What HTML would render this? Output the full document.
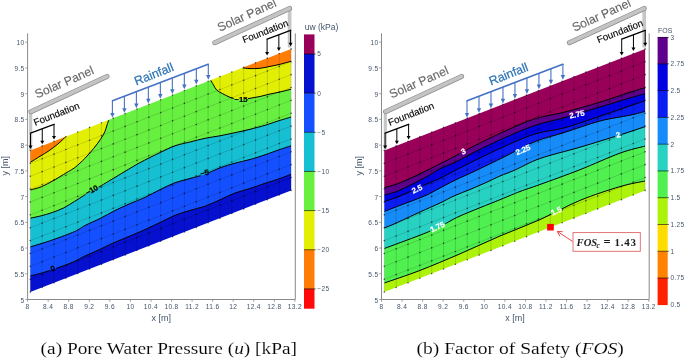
<!DOCTYPE html>
<html><head><meta charset="utf-8"><style>
html,body{margin:0;padding:0;background:#fff;}
body{width:685px;height:358px;overflow:hidden;}
svg{display:block;font-family:"Liberation Sans",sans-serif;will-change:transform;}
</style></head><body>
<svg width="685" height="358" viewBox="0 0 685 358">
<clipPath id="cl"><path d="M30.3,150.5 L291.1,48.9 L291.1,190.4 L30.3,292.1 Z"/></clipPath>
<path d="M26.3,148.06 L295.1,43.34 L295.1,192.84 L26.3,297.66 Z" fill="#0610cf"/>
<path d="M27.3,276.68 C27.8,276.55 27.62,276.6 30.3,275.9 C32.98,275.2 37.87,274.18 43.4,272.5 C48.93,270.82 58.28,267.67 63.5,265.8 C68.72,263.93 71.12,262.93 74.7,261.3 C78.28,259.67 80.95,257.92 85,256 C89.05,254.08 94.35,251.93 99,249.8 C103.65,247.67 107.73,245.5 112.9,243.2 C118.07,240.9 124.65,238.27 130,236 C135.35,233.73 140,231.85 145,229.6 C150,227.35 155,224.88 160,222.5 C165,220.12 170,217.32 175,215.3 C180,213.28 185,211.92 190,210.4 C195,208.88 200,207.97 205,206.2 C210,204.43 215,202 220,199.8 C225,197.6 230,194.88 235,193 C240,191.12 245,190.12 250,188.5 C255,186.88 260.5,184.8 265,183.3 C269.5,181.8 272.65,181 277,179.5 C281.35,178 288.25,175.35 291.1,174.3 C293.95,173.25 293.6,173.38 294.1,173.19 L294.1,39.73 L27.3,143.67 Z" fill="#1450ff"/>
<path d="M27.3,247.84 C27.8,247.68 26.13,248.21 30.3,246.9 C34.47,245.59 44.9,242.57 52.3,240 C59.7,237.43 69.25,233.92 74.7,231.5 C80.15,229.08 80.78,227.67 85,225.5 C89.22,223.33 95,221 100,218.5 C105,216 110,212.98 115,210.5 C120,208.02 125,205.78 130,203.6 C135,201.42 140,199.73 145,197.4 C150,195.07 155,192.05 160,189.6 C165,187.15 170,184.55 175,182.7 C180,180.85 185,179.9 190,178.5 C195,177.1 200,176.08 205,174.3 C210,172.52 215,169.65 220,167.8 C225,165.95 230,164.58 235,163.2 C240,161.82 245,160.9 250,159.5 C255,158.1 260.5,156.3 265,154.8 C269.5,153.3 272.65,152 277,150.5 C281.35,149 288.25,146.75 291.1,145.8 C293.95,144.85 293.6,144.97 294.1,144.8 L294.1,39.73 L27.3,143.67 Z" fill="#17bfd3"/>
<path d="M27.3,218.86 C27.8,218.75 27.98,218.71 30.3,218.2 C32.62,217.69 37.53,216.75 41.2,215.8 C44.87,214.85 48.58,213.8 52.3,212.5 C56.02,211.2 59.77,209.87 63.5,208 C67.23,206.13 71.35,203.35 74.7,201.3 C78.05,199.25 80.62,197.5 83.6,195.7 C86.58,193.9 89.62,192.2 92.6,190.5 C95.58,188.8 98.6,187.18 101.5,185.5 C104.4,183.82 106.08,182.75 110,180.4 C113.92,178.05 120,174.37 125,171.4 C130,168.43 134.17,165.73 140,162.6 C145.83,159.47 154.17,155.4 160,152.6 C165.83,149.8 170,147.57 175,145.8 C180,144.03 185,143.25 190,142 C195,140.75 200,139.33 205,138.3 C210,137.27 215,136.73 220,135.8 C225,134.87 230,133.78 235,132.7 C240,131.62 245,130.53 250,129.3 C255,128.07 260.5,126.63 265,125.3 C269.5,123.97 272.65,122.68 277,121.3 C281.35,119.92 288.25,117.87 291.1,117 C293.95,116.13 293.6,116.24 294.1,116.09 L294.1,39.73 L27.3,143.67 Z" fill="#68f040"/>
<path d="M27.3,190.88 C27.8,190.73 27.98,190.68 30.3,190 C32.62,189.32 37.53,188.27 41.2,186.8 C44.87,185.33 48.58,183.25 52.3,181.2 C56.02,179.15 60.52,176.28 63.5,174.5 C66.48,172.72 68.15,171.78 70.2,170.5 C72.25,169.22 73.38,168.78 75.8,166.8 C78.22,164.82 81.73,161.65 84.7,158.6 C87.67,155.55 91,151.67 93.6,148.5 C96.2,145.33 98.43,142.38 100.3,139.6 C102.17,136.82 103.68,134.22 104.8,131.8 C105.92,129.38 106.33,127.08 107,125.1 C107.67,123.12 108.28,121.41 108.8,119.92 C109.32,118.43 109.89,116.77 110.11,116.14 L110.11,111.41 L27.3,143.67 Z" fill="#e2ef05"/>
<path d="M208.67,76.78 C209.01,77.35 209.91,78.88 210.7,80.22 C211.49,81.56 212.38,83.14 213.4,84.8 C214.42,86.46 215.32,88.75 216.8,90.2 C218.28,91.65 220.27,92.38 222.3,93.5 C224.33,94.62 227.13,96.08 229,96.9 C230.87,97.72 231.67,97.97 233.5,98.4 C235.33,98.83 237.25,99.52 240,99.5 C242.75,99.48 246.67,98.8 250,98.3 C253.33,97.8 256.67,97.22 260,96.5 C263.33,95.78 266.67,94.75 270,94 C273.33,93.25 276.48,92.8 280,92 C283.52,91.2 288.75,89.79 291.1,89.2 C293.45,88.61 293.6,88.57 294.1,88.44 L294.1,39.73 L208.67,73.01 Z" fill="#e2ef05"/>
<path d="M27.3,164.16 C27.8,163.85 28.18,163.61 30.3,162.3 C32.42,160.99 36.9,158.22 40,156.3 C43.1,154.38 45.92,152.85 48.9,150.8 C51.88,148.75 55.1,146.35 57.9,144 C60.7,141.65 63.91,138.38 65.7,136.71 C67.49,135.04 68.14,134.43 68.62,133.98 L68.62,127.57 L27.3,143.67 Z" fill="#ff7d05"/>
<path d="M238.52,67.43 C239.18,67.49 240.59,67.64 242.5,67.83 C244.41,68.03 247.08,68.52 250,68.6 C252.92,68.68 256.67,68.67 260,68.3 C263.33,67.93 266.67,67.07 270,66.4 C273.33,65.73 276.48,65.17 280,64.3 C283.52,63.43 288.75,61.86 291.1,61.2 C293.45,60.54 293.6,60.5 294.1,60.36 L294.1,39.73 L238.52,61.38 Z" fill="#ff7d05"/>
<path d="M18.3,143.17 L303.1,32.23 L303.1,197.72 L18.3,308.78 Z M30.3,150.5 L291.1,48.9 L291.1,190.4 L30.3,292.1 Z" fill="#fff" fill-rule="evenodd"/>
<path d="M30.3,150.5V292.1M42.15,145.88V287.48M54.01,141.26V282.85M65.86,136.65V278.23M77.72,132.03V273.61M89.57,127.41V268.99M101.43,122.79V264.36M113.28,118.17V259.74M125.14,113.55V255.12M136.99,108.94V250.5M148.85,104.32V245.87M160.7,99.7V241.25M172.55,95.08V236.63M184.41,90.46V232M196.26,85.85V227.38M208.12,81.23V222.76M219.97,76.61V218.14M231.83,71.99V213.51M243.68,67.37V208.89M255.54,62.75V204.27M267.39,58.14V199.65M279.25,53.52V195.02M291.1,48.9V190.4M30.3,163.37L291.1,61.76M30.3,176.25L291.1,74.63M30.3,189.12L291.1,87.49M30.3,201.99L291.1,100.35M30.3,214.86L291.1,113.22M30.3,227.74L291.1,126.08M30.3,240.61L291.1,138.95M30.3,253.48L291.1,151.81M30.3,266.35L291.1,164.67M30.3,279.23L291.1,177.54" stroke="#000" stroke-opacity="0.17" stroke-width="0.8" fill="none"/>
<path d="M29.5,150.5a0.8,0.8 0 1,0 1.6,0a0.8,0.8 0 1,0 -1.6,0M29.5,163.37a0.8,0.8 0 1,0 1.6,0a0.8,0.8 0 1,0 -1.6,0M29.5,176.25a0.8,0.8 0 1,0 1.6,0a0.8,0.8 0 1,0 -1.6,0M29.5,189.12a0.8,0.8 0 1,0 1.6,0a0.8,0.8 0 1,0 -1.6,0M29.5,201.99a0.8,0.8 0 1,0 1.6,0a0.8,0.8 0 1,0 -1.6,0M29.5,214.86a0.8,0.8 0 1,0 1.6,0a0.8,0.8 0 1,0 -1.6,0M29.5,227.74a0.8,0.8 0 1,0 1.6,0a0.8,0.8 0 1,0 -1.6,0M29.5,240.61a0.8,0.8 0 1,0 1.6,0a0.8,0.8 0 1,0 -1.6,0M29.5,253.48a0.8,0.8 0 1,0 1.6,0a0.8,0.8 0 1,0 -1.6,0M29.5,266.35a0.8,0.8 0 1,0 1.6,0a0.8,0.8 0 1,0 -1.6,0M29.5,279.23a0.8,0.8 0 1,0 1.6,0a0.8,0.8 0 1,0 -1.6,0M29.5,292.1a0.8,0.8 0 1,0 1.6,0a0.8,0.8 0 1,0 -1.6,0M41.35,145.88a0.8,0.8 0 1,0 1.6,0a0.8,0.8 0 1,0 -1.6,0M41.35,158.75a0.8,0.8 0 1,0 1.6,0a0.8,0.8 0 1,0 -1.6,0M41.35,171.63a0.8,0.8 0 1,0 1.6,0a0.8,0.8 0 1,0 -1.6,0M41.35,184.5a0.8,0.8 0 1,0 1.6,0a0.8,0.8 0 1,0 -1.6,0M41.35,197.37a0.8,0.8 0 1,0 1.6,0a0.8,0.8 0 1,0 -1.6,0M41.35,210.24a0.8,0.8 0 1,0 1.6,0a0.8,0.8 0 1,0 -1.6,0M41.35,223.12a0.8,0.8 0 1,0 1.6,0a0.8,0.8 0 1,0 -1.6,0M41.35,235.99a0.8,0.8 0 1,0 1.6,0a0.8,0.8 0 1,0 -1.6,0M41.35,248.86a0.8,0.8 0 1,0 1.6,0a0.8,0.8 0 1,0 -1.6,0M41.35,261.73a0.8,0.8 0 1,0 1.6,0a0.8,0.8 0 1,0 -1.6,0M41.35,274.6a0.8,0.8 0 1,0 1.6,0a0.8,0.8 0 1,0 -1.6,0M41.35,287.48a0.8,0.8 0 1,0 1.6,0a0.8,0.8 0 1,0 -1.6,0M53.21,141.26a0.8,0.8 0 1,0 1.6,0a0.8,0.8 0 1,0 -1.6,0M53.21,154.14a0.8,0.8 0 1,0 1.6,0a0.8,0.8 0 1,0 -1.6,0M53.21,167.01a0.8,0.8 0 1,0 1.6,0a0.8,0.8 0 1,0 -1.6,0M53.21,179.88a0.8,0.8 0 1,0 1.6,0a0.8,0.8 0 1,0 -1.6,0M53.21,192.75a0.8,0.8 0 1,0 1.6,0a0.8,0.8 0 1,0 -1.6,0M53.21,205.62a0.8,0.8 0 1,0 1.6,0a0.8,0.8 0 1,0 -1.6,0M53.21,218.5a0.8,0.8 0 1,0 1.6,0a0.8,0.8 0 1,0 -1.6,0M53.21,231.37a0.8,0.8 0 1,0 1.6,0a0.8,0.8 0 1,0 -1.6,0M53.21,244.24a0.8,0.8 0 1,0 1.6,0a0.8,0.8 0 1,0 -1.6,0M53.21,257.11a0.8,0.8 0 1,0 1.6,0a0.8,0.8 0 1,0 -1.6,0M53.21,269.98a0.8,0.8 0 1,0 1.6,0a0.8,0.8 0 1,0 -1.6,0M53.21,282.85a0.8,0.8 0 1,0 1.6,0a0.8,0.8 0 1,0 -1.6,0M65.06,136.65a0.8,0.8 0 1,0 1.6,0a0.8,0.8 0 1,0 -1.6,0M65.06,149.52a0.8,0.8 0 1,0 1.6,0a0.8,0.8 0 1,0 -1.6,0M65.06,162.39a0.8,0.8 0 1,0 1.6,0a0.8,0.8 0 1,0 -1.6,0M65.06,175.26a0.8,0.8 0 1,0 1.6,0a0.8,0.8 0 1,0 -1.6,0M65.06,188.13a0.8,0.8 0 1,0 1.6,0a0.8,0.8 0 1,0 -1.6,0M65.06,201a0.8,0.8 0 1,0 1.6,0a0.8,0.8 0 1,0 -1.6,0M65.06,213.87a0.8,0.8 0 1,0 1.6,0a0.8,0.8 0 1,0 -1.6,0M65.06,226.75a0.8,0.8 0 1,0 1.6,0a0.8,0.8 0 1,0 -1.6,0M65.06,239.62a0.8,0.8 0 1,0 1.6,0a0.8,0.8 0 1,0 -1.6,0M65.06,252.49a0.8,0.8 0 1,0 1.6,0a0.8,0.8 0 1,0 -1.6,0M65.06,265.36a0.8,0.8 0 1,0 1.6,0a0.8,0.8 0 1,0 -1.6,0M65.06,278.23a0.8,0.8 0 1,0 1.6,0a0.8,0.8 0 1,0 -1.6,0M76.92,132.03a0.8,0.8 0 1,0 1.6,0a0.8,0.8 0 1,0 -1.6,0M76.92,144.9a0.8,0.8 0 1,0 1.6,0a0.8,0.8 0 1,0 -1.6,0M76.92,157.77a0.8,0.8 0 1,0 1.6,0a0.8,0.8 0 1,0 -1.6,0M76.92,170.64a0.8,0.8 0 1,0 1.6,0a0.8,0.8 0 1,0 -1.6,0M76.92,183.51a0.8,0.8 0 1,0 1.6,0a0.8,0.8 0 1,0 -1.6,0M76.92,196.38a0.8,0.8 0 1,0 1.6,0a0.8,0.8 0 1,0 -1.6,0M76.92,209.25a0.8,0.8 0 1,0 1.6,0a0.8,0.8 0 1,0 -1.6,0M76.92,222.12a0.8,0.8 0 1,0 1.6,0a0.8,0.8 0 1,0 -1.6,0M76.92,235a0.8,0.8 0 1,0 1.6,0a0.8,0.8 0 1,0 -1.6,0M76.92,247.87a0.8,0.8 0 1,0 1.6,0a0.8,0.8 0 1,0 -1.6,0M76.92,260.74a0.8,0.8 0 1,0 1.6,0a0.8,0.8 0 1,0 -1.6,0M76.92,273.61a0.8,0.8 0 1,0 1.6,0a0.8,0.8 0 1,0 -1.6,0M88.77,127.41a0.8,0.8 0 1,0 1.6,0a0.8,0.8 0 1,0 -1.6,0M88.77,140.28a0.8,0.8 0 1,0 1.6,0a0.8,0.8 0 1,0 -1.6,0M88.77,153.15a0.8,0.8 0 1,0 1.6,0a0.8,0.8 0 1,0 -1.6,0M88.77,166.02a0.8,0.8 0 1,0 1.6,0a0.8,0.8 0 1,0 -1.6,0M88.77,178.89a0.8,0.8 0 1,0 1.6,0a0.8,0.8 0 1,0 -1.6,0M88.77,191.76a0.8,0.8 0 1,0 1.6,0a0.8,0.8 0 1,0 -1.6,0M88.77,204.63a0.8,0.8 0 1,0 1.6,0a0.8,0.8 0 1,0 -1.6,0M88.77,217.5a0.8,0.8 0 1,0 1.6,0a0.8,0.8 0 1,0 -1.6,0M88.77,230.37a0.8,0.8 0 1,0 1.6,0a0.8,0.8 0 1,0 -1.6,0M88.77,243.25a0.8,0.8 0 1,0 1.6,0a0.8,0.8 0 1,0 -1.6,0M88.77,256.12a0.8,0.8 0 1,0 1.6,0a0.8,0.8 0 1,0 -1.6,0M88.77,268.99a0.8,0.8 0 1,0 1.6,0a0.8,0.8 0 1,0 -1.6,0M100.63,122.79a0.8,0.8 0 1,0 1.6,0a0.8,0.8 0 1,0 -1.6,0M100.63,135.66a0.8,0.8 0 1,0 1.6,0a0.8,0.8 0 1,0 -1.6,0M100.63,148.53a0.8,0.8 0 1,0 1.6,0a0.8,0.8 0 1,0 -1.6,0M100.63,161.4a0.8,0.8 0 1,0 1.6,0a0.8,0.8 0 1,0 -1.6,0M100.63,174.27a0.8,0.8 0 1,0 1.6,0a0.8,0.8 0 1,0 -1.6,0M100.63,187.14a0.8,0.8 0 1,0 1.6,0a0.8,0.8 0 1,0 -1.6,0M100.63,200.01a0.8,0.8 0 1,0 1.6,0a0.8,0.8 0 1,0 -1.6,0M100.63,212.88a0.8,0.8 0 1,0 1.6,0a0.8,0.8 0 1,0 -1.6,0M100.63,225.75a0.8,0.8 0 1,0 1.6,0a0.8,0.8 0 1,0 -1.6,0M100.63,238.62a0.8,0.8 0 1,0 1.6,0a0.8,0.8 0 1,0 -1.6,0M100.63,251.49a0.8,0.8 0 1,0 1.6,0a0.8,0.8 0 1,0 -1.6,0M100.63,264.36a0.8,0.8 0 1,0 1.6,0a0.8,0.8 0 1,0 -1.6,0M112.48,118.17a0.8,0.8 0 1,0 1.6,0a0.8,0.8 0 1,0 -1.6,0M112.48,131.04a0.8,0.8 0 1,0 1.6,0a0.8,0.8 0 1,0 -1.6,0M112.48,143.91a0.8,0.8 0 1,0 1.6,0a0.8,0.8 0 1,0 -1.6,0M112.48,156.78a0.8,0.8 0 1,0 1.6,0a0.8,0.8 0 1,0 -1.6,0M112.48,169.65a0.8,0.8 0 1,0 1.6,0a0.8,0.8 0 1,0 -1.6,0M112.48,182.52a0.8,0.8 0 1,0 1.6,0a0.8,0.8 0 1,0 -1.6,0M112.48,195.39a0.8,0.8 0 1,0 1.6,0a0.8,0.8 0 1,0 -1.6,0M112.48,208.26a0.8,0.8 0 1,0 1.6,0a0.8,0.8 0 1,0 -1.6,0M112.48,221.13a0.8,0.8 0 1,0 1.6,0a0.8,0.8 0 1,0 -1.6,0M112.48,234a0.8,0.8 0 1,0 1.6,0a0.8,0.8 0 1,0 -1.6,0M112.48,246.87a0.8,0.8 0 1,0 1.6,0a0.8,0.8 0 1,0 -1.6,0M112.48,259.74a0.8,0.8 0 1,0 1.6,0a0.8,0.8 0 1,0 -1.6,0M124.34,113.55a0.8,0.8 0 1,0 1.6,0a0.8,0.8 0 1,0 -1.6,0M124.34,126.42a0.8,0.8 0 1,0 1.6,0a0.8,0.8 0 1,0 -1.6,0M124.34,139.29a0.8,0.8 0 1,0 1.6,0a0.8,0.8 0 1,0 -1.6,0M124.34,152.16a0.8,0.8 0 1,0 1.6,0a0.8,0.8 0 1,0 -1.6,0M124.34,165.03a0.8,0.8 0 1,0 1.6,0a0.8,0.8 0 1,0 -1.6,0M124.34,177.9a0.8,0.8 0 1,0 1.6,0a0.8,0.8 0 1,0 -1.6,0M124.34,190.77a0.8,0.8 0 1,0 1.6,0a0.8,0.8 0 1,0 -1.6,0M124.34,203.64a0.8,0.8 0 1,0 1.6,0a0.8,0.8 0 1,0 -1.6,0M124.34,216.51a0.8,0.8 0 1,0 1.6,0a0.8,0.8 0 1,0 -1.6,0M124.34,229.38a0.8,0.8 0 1,0 1.6,0a0.8,0.8 0 1,0 -1.6,0M124.34,242.25a0.8,0.8 0 1,0 1.6,0a0.8,0.8 0 1,0 -1.6,0M124.34,255.12a0.8,0.8 0 1,0 1.6,0a0.8,0.8 0 1,0 -1.6,0M136.19,108.94a0.8,0.8 0 1,0 1.6,0a0.8,0.8 0 1,0 -1.6,0M136.19,121.81a0.8,0.8 0 1,0 1.6,0a0.8,0.8 0 1,0 -1.6,0M136.19,134.67a0.8,0.8 0 1,0 1.6,0a0.8,0.8 0 1,0 -1.6,0M136.19,147.54a0.8,0.8 0 1,0 1.6,0a0.8,0.8 0 1,0 -1.6,0M136.19,160.41a0.8,0.8 0 1,0 1.6,0a0.8,0.8 0 1,0 -1.6,0M136.19,173.28a0.8,0.8 0 1,0 1.6,0a0.8,0.8 0 1,0 -1.6,0M136.19,186.15a0.8,0.8 0 1,0 1.6,0a0.8,0.8 0 1,0 -1.6,0M136.19,199.02a0.8,0.8 0 1,0 1.6,0a0.8,0.8 0 1,0 -1.6,0M136.19,211.89a0.8,0.8 0 1,0 1.6,0a0.8,0.8 0 1,0 -1.6,0M136.19,224.76a0.8,0.8 0 1,0 1.6,0a0.8,0.8 0 1,0 -1.6,0M136.19,237.63a0.8,0.8 0 1,0 1.6,0a0.8,0.8 0 1,0 -1.6,0M136.19,250.5a0.8,0.8 0 1,0 1.6,0a0.8,0.8 0 1,0 -1.6,0M148.05,104.32a0.8,0.8 0 1,0 1.6,0a0.8,0.8 0 1,0 -1.6,0M148.05,117.19a0.8,0.8 0 1,0 1.6,0a0.8,0.8 0 1,0 -1.6,0M148.05,130.06a0.8,0.8 0 1,0 1.6,0a0.8,0.8 0 1,0 -1.6,0M148.05,142.92a0.8,0.8 0 1,0 1.6,0a0.8,0.8 0 1,0 -1.6,0M148.05,155.79a0.8,0.8 0 1,0 1.6,0a0.8,0.8 0 1,0 -1.6,0M148.05,168.66a0.8,0.8 0 1,0 1.6,0a0.8,0.8 0 1,0 -1.6,0M148.05,181.53a0.8,0.8 0 1,0 1.6,0a0.8,0.8 0 1,0 -1.6,0M148.05,194.4a0.8,0.8 0 1,0 1.6,0a0.8,0.8 0 1,0 -1.6,0M148.05,207.27a0.8,0.8 0 1,0 1.6,0a0.8,0.8 0 1,0 -1.6,0M148.05,220.14a0.8,0.8 0 1,0 1.6,0a0.8,0.8 0 1,0 -1.6,0M148.05,233a0.8,0.8 0 1,0 1.6,0a0.8,0.8 0 1,0 -1.6,0M148.05,245.87a0.8,0.8 0 1,0 1.6,0a0.8,0.8 0 1,0 -1.6,0M159.9,99.7a0.8,0.8 0 1,0 1.6,0a0.8,0.8 0 1,0 -1.6,0M159.9,112.57a0.8,0.8 0 1,0 1.6,0a0.8,0.8 0 1,0 -1.6,0M159.9,125.44a0.8,0.8 0 1,0 1.6,0a0.8,0.8 0 1,0 -1.6,0M159.9,138.3a0.8,0.8 0 1,0 1.6,0a0.8,0.8 0 1,0 -1.6,0M159.9,151.17a0.8,0.8 0 1,0 1.6,0a0.8,0.8 0 1,0 -1.6,0M159.9,164.04a0.8,0.8 0 1,0 1.6,0a0.8,0.8 0 1,0 -1.6,0M159.9,176.91a0.8,0.8 0 1,0 1.6,0a0.8,0.8 0 1,0 -1.6,0M159.9,189.78a0.8,0.8 0 1,0 1.6,0a0.8,0.8 0 1,0 -1.6,0M159.9,202.65a0.8,0.8 0 1,0 1.6,0a0.8,0.8 0 1,0 -1.6,0M159.9,215.51a0.8,0.8 0 1,0 1.6,0a0.8,0.8 0 1,0 -1.6,0M159.9,228.38a0.8,0.8 0 1,0 1.6,0a0.8,0.8 0 1,0 -1.6,0M159.9,241.25a0.8,0.8 0 1,0 1.6,0a0.8,0.8 0 1,0 -1.6,0M171.75,95.08a0.8,0.8 0 1,0 1.6,0a0.8,0.8 0 1,0 -1.6,0M171.75,107.95a0.8,0.8 0 1,0 1.6,0a0.8,0.8 0 1,0 -1.6,0M171.75,120.82a0.8,0.8 0 1,0 1.6,0a0.8,0.8 0 1,0 -1.6,0M171.75,133.69a0.8,0.8 0 1,0 1.6,0a0.8,0.8 0 1,0 -1.6,0M171.75,146.55a0.8,0.8 0 1,0 1.6,0a0.8,0.8 0 1,0 -1.6,0M171.75,159.42a0.8,0.8 0 1,0 1.6,0a0.8,0.8 0 1,0 -1.6,0M171.75,172.29a0.8,0.8 0 1,0 1.6,0a0.8,0.8 0 1,0 -1.6,0M171.75,185.16a0.8,0.8 0 1,0 1.6,0a0.8,0.8 0 1,0 -1.6,0M171.75,198.02a0.8,0.8 0 1,0 1.6,0a0.8,0.8 0 1,0 -1.6,0M171.75,210.89a0.8,0.8 0 1,0 1.6,0a0.8,0.8 0 1,0 -1.6,0M171.75,223.76a0.8,0.8 0 1,0 1.6,0a0.8,0.8 0 1,0 -1.6,0M171.75,236.63a0.8,0.8 0 1,0 1.6,0a0.8,0.8 0 1,0 -1.6,0M183.61,90.46a0.8,0.8 0 1,0 1.6,0a0.8,0.8 0 1,0 -1.6,0M183.61,103.33a0.8,0.8 0 1,0 1.6,0a0.8,0.8 0 1,0 -1.6,0M183.61,116.2a0.8,0.8 0 1,0 1.6,0a0.8,0.8 0 1,0 -1.6,0M183.61,129.07a0.8,0.8 0 1,0 1.6,0a0.8,0.8 0 1,0 -1.6,0M183.61,141.93a0.8,0.8 0 1,0 1.6,0a0.8,0.8 0 1,0 -1.6,0M183.61,154.8a0.8,0.8 0 1,0 1.6,0a0.8,0.8 0 1,0 -1.6,0M183.61,167.67a0.8,0.8 0 1,0 1.6,0a0.8,0.8 0 1,0 -1.6,0M183.61,180.54a0.8,0.8 0 1,0 1.6,0a0.8,0.8 0 1,0 -1.6,0M183.61,193.4a0.8,0.8 0 1,0 1.6,0a0.8,0.8 0 1,0 -1.6,0M183.61,206.27a0.8,0.8 0 1,0 1.6,0a0.8,0.8 0 1,0 -1.6,0M183.61,219.14a0.8,0.8 0 1,0 1.6,0a0.8,0.8 0 1,0 -1.6,0M183.61,232a0.8,0.8 0 1,0 1.6,0a0.8,0.8 0 1,0 -1.6,0M195.46,85.85a0.8,0.8 0 1,0 1.6,0a0.8,0.8 0 1,0 -1.6,0M195.46,98.71a0.8,0.8 0 1,0 1.6,0a0.8,0.8 0 1,0 -1.6,0M195.46,111.58a0.8,0.8 0 1,0 1.6,0a0.8,0.8 0 1,0 -1.6,0M195.46,124.45a0.8,0.8 0 1,0 1.6,0a0.8,0.8 0 1,0 -1.6,0M195.46,137.31a0.8,0.8 0 1,0 1.6,0a0.8,0.8 0 1,0 -1.6,0M195.46,150.18a0.8,0.8 0 1,0 1.6,0a0.8,0.8 0 1,0 -1.6,0M195.46,163.05a0.8,0.8 0 1,0 1.6,0a0.8,0.8 0 1,0 -1.6,0M195.46,175.91a0.8,0.8 0 1,0 1.6,0a0.8,0.8 0 1,0 -1.6,0M195.46,188.78a0.8,0.8 0 1,0 1.6,0a0.8,0.8 0 1,0 -1.6,0M195.46,201.65a0.8,0.8 0 1,0 1.6,0a0.8,0.8 0 1,0 -1.6,0M195.46,214.51a0.8,0.8 0 1,0 1.6,0a0.8,0.8 0 1,0 -1.6,0M195.46,227.38a0.8,0.8 0 1,0 1.6,0a0.8,0.8 0 1,0 -1.6,0M207.32,81.23a0.8,0.8 0 1,0 1.6,0a0.8,0.8 0 1,0 -1.6,0M207.32,94.09a0.8,0.8 0 1,0 1.6,0a0.8,0.8 0 1,0 -1.6,0M207.32,106.96a0.8,0.8 0 1,0 1.6,0a0.8,0.8 0 1,0 -1.6,0M207.32,119.83a0.8,0.8 0 1,0 1.6,0a0.8,0.8 0 1,0 -1.6,0M207.32,132.69a0.8,0.8 0 1,0 1.6,0a0.8,0.8 0 1,0 -1.6,0M207.32,145.56a0.8,0.8 0 1,0 1.6,0a0.8,0.8 0 1,0 -1.6,0M207.32,158.43a0.8,0.8 0 1,0 1.6,0a0.8,0.8 0 1,0 -1.6,0M207.32,171.29a0.8,0.8 0 1,0 1.6,0a0.8,0.8 0 1,0 -1.6,0M207.32,184.16a0.8,0.8 0 1,0 1.6,0a0.8,0.8 0 1,0 -1.6,0M207.32,197.03a0.8,0.8 0 1,0 1.6,0a0.8,0.8 0 1,0 -1.6,0M207.32,209.89a0.8,0.8 0 1,0 1.6,0a0.8,0.8 0 1,0 -1.6,0M207.32,222.76a0.8,0.8 0 1,0 1.6,0a0.8,0.8 0 1,0 -1.6,0M219.17,76.61a0.8,0.8 0 1,0 1.6,0a0.8,0.8 0 1,0 -1.6,0M219.17,89.48a0.8,0.8 0 1,0 1.6,0a0.8,0.8 0 1,0 -1.6,0M219.17,102.34a0.8,0.8 0 1,0 1.6,0a0.8,0.8 0 1,0 -1.6,0M219.17,115.21a0.8,0.8 0 1,0 1.6,0a0.8,0.8 0 1,0 -1.6,0M219.17,128.07a0.8,0.8 0 1,0 1.6,0a0.8,0.8 0 1,0 -1.6,0M219.17,140.94a0.8,0.8 0 1,0 1.6,0a0.8,0.8 0 1,0 -1.6,0M219.17,153.81a0.8,0.8 0 1,0 1.6,0a0.8,0.8 0 1,0 -1.6,0M219.17,166.67a0.8,0.8 0 1,0 1.6,0a0.8,0.8 0 1,0 -1.6,0M219.17,179.54a0.8,0.8 0 1,0 1.6,0a0.8,0.8 0 1,0 -1.6,0M219.17,192.4a0.8,0.8 0 1,0 1.6,0a0.8,0.8 0 1,0 -1.6,0M219.17,205.27a0.8,0.8 0 1,0 1.6,0a0.8,0.8 0 1,0 -1.6,0M219.17,218.14a0.8,0.8 0 1,0 1.6,0a0.8,0.8 0 1,0 -1.6,0M231.03,71.99a0.8,0.8 0 1,0 1.6,0a0.8,0.8 0 1,0 -1.6,0M231.03,84.86a0.8,0.8 0 1,0 1.6,0a0.8,0.8 0 1,0 -1.6,0M231.03,97.72a0.8,0.8 0 1,0 1.6,0a0.8,0.8 0 1,0 -1.6,0M231.03,110.59a0.8,0.8 0 1,0 1.6,0a0.8,0.8 0 1,0 -1.6,0M231.03,123.45a0.8,0.8 0 1,0 1.6,0a0.8,0.8 0 1,0 -1.6,0M231.03,136.32a0.8,0.8 0 1,0 1.6,0a0.8,0.8 0 1,0 -1.6,0M231.03,149.19a0.8,0.8 0 1,0 1.6,0a0.8,0.8 0 1,0 -1.6,0M231.03,162.05a0.8,0.8 0 1,0 1.6,0a0.8,0.8 0 1,0 -1.6,0M231.03,174.92a0.8,0.8 0 1,0 1.6,0a0.8,0.8 0 1,0 -1.6,0M231.03,187.78a0.8,0.8 0 1,0 1.6,0a0.8,0.8 0 1,0 -1.6,0M231.03,200.65a0.8,0.8 0 1,0 1.6,0a0.8,0.8 0 1,0 -1.6,0M231.03,213.51a0.8,0.8 0 1,0 1.6,0a0.8,0.8 0 1,0 -1.6,0M242.88,67.37a0.8,0.8 0 1,0 1.6,0a0.8,0.8 0 1,0 -1.6,0M242.88,80.24a0.8,0.8 0 1,0 1.6,0a0.8,0.8 0 1,0 -1.6,0M242.88,93.1a0.8,0.8 0 1,0 1.6,0a0.8,0.8 0 1,0 -1.6,0M242.88,105.97a0.8,0.8 0 1,0 1.6,0a0.8,0.8 0 1,0 -1.6,0M242.88,118.83a0.8,0.8 0 1,0 1.6,0a0.8,0.8 0 1,0 -1.6,0M242.88,131.7a0.8,0.8 0 1,0 1.6,0a0.8,0.8 0 1,0 -1.6,0M242.88,144.56a0.8,0.8 0 1,0 1.6,0a0.8,0.8 0 1,0 -1.6,0M242.88,157.43a0.8,0.8 0 1,0 1.6,0a0.8,0.8 0 1,0 -1.6,0M242.88,170.3a0.8,0.8 0 1,0 1.6,0a0.8,0.8 0 1,0 -1.6,0M242.88,183.16a0.8,0.8 0 1,0 1.6,0a0.8,0.8 0 1,0 -1.6,0M242.88,196.03a0.8,0.8 0 1,0 1.6,0a0.8,0.8 0 1,0 -1.6,0M242.88,208.89a0.8,0.8 0 1,0 1.6,0a0.8,0.8 0 1,0 -1.6,0M254.74,62.75a0.8,0.8 0 1,0 1.6,0a0.8,0.8 0 1,0 -1.6,0M254.74,75.62a0.8,0.8 0 1,0 1.6,0a0.8,0.8 0 1,0 -1.6,0M254.74,88.48a0.8,0.8 0 1,0 1.6,0a0.8,0.8 0 1,0 -1.6,0M254.74,101.35a0.8,0.8 0 1,0 1.6,0a0.8,0.8 0 1,0 -1.6,0M254.74,114.21a0.8,0.8 0 1,0 1.6,0a0.8,0.8 0 1,0 -1.6,0M254.74,127.08a0.8,0.8 0 1,0 1.6,0a0.8,0.8 0 1,0 -1.6,0M254.74,139.94a0.8,0.8 0 1,0 1.6,0a0.8,0.8 0 1,0 -1.6,0M254.74,152.81a0.8,0.8 0 1,0 1.6,0a0.8,0.8 0 1,0 -1.6,0M254.74,165.67a0.8,0.8 0 1,0 1.6,0a0.8,0.8 0 1,0 -1.6,0M254.74,178.54a0.8,0.8 0 1,0 1.6,0a0.8,0.8 0 1,0 -1.6,0M254.74,191.4a0.8,0.8 0 1,0 1.6,0a0.8,0.8 0 1,0 -1.6,0M254.74,204.27a0.8,0.8 0 1,0 1.6,0a0.8,0.8 0 1,0 -1.6,0M266.59,58.14a0.8,0.8 0 1,0 1.6,0a0.8,0.8 0 1,0 -1.6,0M266.59,71a0.8,0.8 0 1,0 1.6,0a0.8,0.8 0 1,0 -1.6,0M266.59,83.87a0.8,0.8 0 1,0 1.6,0a0.8,0.8 0 1,0 -1.6,0M266.59,96.73a0.8,0.8 0 1,0 1.6,0a0.8,0.8 0 1,0 -1.6,0M266.59,109.59a0.8,0.8 0 1,0 1.6,0a0.8,0.8 0 1,0 -1.6,0M266.59,122.46a0.8,0.8 0 1,0 1.6,0a0.8,0.8 0 1,0 -1.6,0M266.59,135.32a0.8,0.8 0 1,0 1.6,0a0.8,0.8 0 1,0 -1.6,0M266.59,148.19a0.8,0.8 0 1,0 1.6,0a0.8,0.8 0 1,0 -1.6,0M266.59,161.05a0.8,0.8 0 1,0 1.6,0a0.8,0.8 0 1,0 -1.6,0M266.59,173.92a0.8,0.8 0 1,0 1.6,0a0.8,0.8 0 1,0 -1.6,0M266.59,186.78a0.8,0.8 0 1,0 1.6,0a0.8,0.8 0 1,0 -1.6,0M266.59,199.65a0.8,0.8 0 1,0 1.6,0a0.8,0.8 0 1,0 -1.6,0M278.45,53.52a0.8,0.8 0 1,0 1.6,0a0.8,0.8 0 1,0 -1.6,0M278.45,66.38a0.8,0.8 0 1,0 1.6,0a0.8,0.8 0 1,0 -1.6,0M278.45,79.25a0.8,0.8 0 1,0 1.6,0a0.8,0.8 0 1,0 -1.6,0M278.45,92.11a0.8,0.8 0 1,0 1.6,0a0.8,0.8 0 1,0 -1.6,0M278.45,104.97a0.8,0.8 0 1,0 1.6,0a0.8,0.8 0 1,0 -1.6,0M278.45,117.84a0.8,0.8 0 1,0 1.6,0a0.8,0.8 0 1,0 -1.6,0M278.45,130.7a0.8,0.8 0 1,0 1.6,0a0.8,0.8 0 1,0 -1.6,0M278.45,143.57a0.8,0.8 0 1,0 1.6,0a0.8,0.8 0 1,0 -1.6,0M278.45,156.43a0.8,0.8 0 1,0 1.6,0a0.8,0.8 0 1,0 -1.6,0M278.45,169.29a0.8,0.8 0 1,0 1.6,0a0.8,0.8 0 1,0 -1.6,0M278.45,182.16a0.8,0.8 0 1,0 1.6,0a0.8,0.8 0 1,0 -1.6,0M278.45,195.02a0.8,0.8 0 1,0 1.6,0a0.8,0.8 0 1,0 -1.6,0M290.3,48.9a0.8,0.8 0 1,0 1.6,0a0.8,0.8 0 1,0 -1.6,0M290.3,61.76a0.8,0.8 0 1,0 1.6,0a0.8,0.8 0 1,0 -1.6,0M290.3,74.63a0.8,0.8 0 1,0 1.6,0a0.8,0.8 0 1,0 -1.6,0M290.3,87.49a0.8,0.8 0 1,0 1.6,0a0.8,0.8 0 1,0 -1.6,0M290.3,100.35a0.8,0.8 0 1,0 1.6,0a0.8,0.8 0 1,0 -1.6,0M290.3,113.22a0.8,0.8 0 1,0 1.6,0a0.8,0.8 0 1,0 -1.6,0M290.3,126.08a0.8,0.8 0 1,0 1.6,0a0.8,0.8 0 1,0 -1.6,0M290.3,138.95a0.8,0.8 0 1,0 1.6,0a0.8,0.8 0 1,0 -1.6,0M290.3,151.81a0.8,0.8 0 1,0 1.6,0a0.8,0.8 0 1,0 -1.6,0M290.3,164.67a0.8,0.8 0 1,0 1.6,0a0.8,0.8 0 1,0 -1.6,0M290.3,177.54a0.8,0.8 0 1,0 1.6,0a0.8,0.8 0 1,0 -1.6,0M290.3,190.4a0.8,0.8 0 1,0 1.6,0a0.8,0.8 0 1,0 -1.6,0" fill="#000" fill-opacity="0.6"/>
<mask id="ml" maskUnits="userSpaceOnUse" x="0" y="0" width="685" height="358"><rect width="685" height="358" fill="#fff"/><rect x="-3.5" y="-3" width="7" height="6" transform="translate(52.9,268.8) rotate(-18)" fill="#000"/><rect x="-7.5" y="-3" width="15" height="6" transform="translate(91.8,190.4) rotate(-30)" fill="#000"/><rect x="-4.5" y="-3" width="9" height="6" transform="translate(204.6,173) rotate(-14)" fill="#000"/><rect x="-7" y="-3" width="14" height="6" transform="translate(241,99.4) rotate(0)" fill="#000"/></mask>
<g clip-path="url(#cl)">
<path d="M30.3,275.9 C32.48,275.33 37.87,274.18 43.4,272.5 C48.93,270.82 58.28,267.67 63.5,265.8 C68.72,263.93 71.12,262.93 74.7,261.3 C78.28,259.67 80.95,257.92 85,256 C89.05,254.08 94.35,251.93 99,249.8 C103.65,247.67 107.73,245.5 112.9,243.2 C118.07,240.9 124.65,238.27 130,236 C135.35,233.73 140,231.85 145,229.6 C150,227.35 155,224.88 160,222.5 C165,220.12 170,217.32 175,215.3 C180,213.28 185,211.92 190,210.4 C195,208.88 200,207.97 205,206.2 C210,204.43 215,202 220,199.8 C225,197.6 230,194.88 235,193 C240,191.12 245,190.12 250,188.5 C255,186.88 260.5,184.8 265,183.3 C269.5,181.8 272.65,181 277,179.5 C281.35,178 288.75,175.17 291.1,174.3M30.3,246.9 C33.97,245.75 44.9,242.57 52.3,240 C59.7,237.43 69.25,233.92 74.7,231.5 C80.15,229.08 80.78,227.67 85,225.5 C89.22,223.33 95,221 100,218.5 C105,216 110,212.98 115,210.5 C120,208.02 125,205.78 130,203.6 C135,201.42 140,199.73 145,197.4 C150,195.07 155,192.05 160,189.6 C165,187.15 170,184.55 175,182.7 C180,180.85 185,179.9 190,178.5 C195,177.1 200,176.08 205,174.3 C210,172.52 215,169.65 220,167.8 C225,165.95 230,164.58 235,163.2 C240,161.82 245,160.9 250,159.5 C255,158.1 260.5,156.3 265,154.8 C269.5,153.3 272.65,152 277,150.5 C281.35,149 288.75,146.58 291.1,145.8M30.3,218.2 C32.12,217.8 37.53,216.75 41.2,215.8 C44.87,214.85 48.58,213.8 52.3,212.5 C56.02,211.2 59.77,209.87 63.5,208 C67.23,206.13 71.35,203.35 74.7,201.3 C78.05,199.25 80.62,197.5 83.6,195.7 C86.58,193.9 89.62,192.2 92.6,190.5 C95.58,188.8 98.6,187.18 101.5,185.5 C104.4,183.82 106.08,182.75 110,180.4 C113.92,178.05 120,174.37 125,171.4 C130,168.43 134.17,165.73 140,162.6 C145.83,159.47 154.17,155.4 160,152.6 C165.83,149.8 170,147.57 175,145.8 C180,144.03 185,143.25 190,142 C195,140.75 200,139.33 205,138.3 C210,137.27 215,136.73 220,135.8 C225,134.87 230,133.78 235,132.7 C240,131.62 245,130.53 250,129.3 C255,128.07 260.5,126.63 265,125.3 C269.5,123.97 272.65,122.68 277,121.3 C281.35,119.92 288.75,117.72 291.1,117M30.3,190 C32.12,189.47 37.53,188.27 41.2,186.8 C44.87,185.33 48.58,183.25 52.3,181.2 C56.02,179.15 60.52,176.28 63.5,174.5 C66.48,172.72 68.15,171.78 70.2,170.5 C72.25,169.22 73.38,168.78 75.8,166.8 C78.22,164.82 81.73,161.65 84.7,158.6 C87.67,155.55 91,151.67 93.6,148.5 C96.2,145.33 98.43,142.38 100.3,139.6 C102.17,136.82 103.68,134.22 104.8,131.8 C105.92,129.38 106.33,127.08 107,125.1 C107.67,123.12 108.5,120.78 108.8,119.92M210.7,80.22 C211.15,80.98 212.38,83.14 213.4,84.8 C214.42,86.46 215.32,88.75 216.8,90.2 C218.28,91.65 220.27,92.38 222.3,93.5 C224.33,94.62 227.13,96.08 229,96.9 C230.87,97.72 231.67,97.97 233.5,98.4 C235.33,98.83 237.25,99.52 240,99.5 C242.75,99.48 246.67,98.8 250,98.3 C253.33,97.8 256.67,97.22 260,96.5 C263.33,95.78 266.67,94.75 270,94 C273.33,93.25 276.48,92.8 280,92 C283.52,91.2 289.25,89.67 291.1,89.2M30.3,162.3 C31.92,161.3 36.9,158.22 40,156.3 C43.1,154.38 45.92,152.85 48.9,150.8 C51.88,148.75 55.1,146.35 57.9,144 C60.7,141.65 64.4,137.92 65.7,136.71M242.5,67.83 C243.75,67.96 247.08,68.52 250,68.6 C252.92,68.68 256.67,68.67 260,68.3 C263.33,67.93 266.67,67.07 270,66.4 C273.33,65.73 276.48,65.17 280,64.3 C283.52,63.43 289.25,61.72 291.1,61.2" stroke="#000" stroke-width="1" fill="none" mask="url(#ml)"/>
</g>
<clipPath id="cr"><path d="M384.3,150.5 L645.1,48.9 L645.1,190.4 L384.3,292.1 Z"/></clipPath>
<path d="M380.3,148.06 L649.1,43.34 L649.1,192.84 L380.3,297.66 Z" fill="#acf20a"/>
<path d="M381.3,284.06 C381.8,283.88 377.85,285.28 384.3,283 C390.75,280.72 407.38,275.27 420,270.4 C432.62,265.53 446.67,259.53 460,253.8 C473.33,248.07 486.67,241.7 500,236 C513.33,230.3 526.67,225.53 540,219.6 C553.33,213.67 566.67,205.9 580,200.4 C593.33,194.9 609.15,189.83 620,186.6 C630.85,183.37 640.42,182.04 645.1,181 C649.78,179.96 647.6,180.44 648.1,180.33 L648.1,39.73 L381.3,143.67 Z" fill="#50f050"/>
<path d="M381.3,249.62 C381.8,249.43 377.85,250.9 384.3,248.5 C390.75,246.1 410.72,238.83 420,235.2 C429.28,231.57 433.33,229.9 440,226.7 C446.67,223.5 450,220.5 460,216 C470,211.5 490,203.78 500,199.7 C510,195.62 513.33,194.03 520,191.5 C526.67,188.97 530,188.13 540,184.5 C550,180.87 566.67,174.93 580,169.7 C593.33,164.47 609.15,157.03 620,153.1 C630.85,149.17 640.42,147.41 645.1,146.1 C649.78,144.79 647.6,145.4 648.1,145.26 L648.1,39.73 L381.3,143.67 Z" fill="#28d2c3"/>
<path d="M381.3,229.23 C381.8,229.03 382.02,228.94 384.3,228 C386.58,227.06 389.05,226.27 395,223.6 C400.95,220.93 412.5,215.43 420,212 C427.5,208.57 434.17,205.75 440,203 C445.83,200.25 450,197.75 455,195.5 C460,193.25 465,191.58 470,189.5 C475,187.42 480,185.25 485,183 C490,180.75 495,178.17 500,176 C505,173.83 508.33,172.92 515,170 C521.67,167.08 529.17,162.3 540,158.5 C550.83,154.7 566.67,151.13 580,147.2 C593.33,143.27 609.15,138.32 620,134.9 C630.85,131.48 640.42,128.23 645.1,126.7 C649.78,125.17 647.6,125.88 648.1,125.72 L648.1,39.73 L381.3,143.67 Z" fill="#168cfa"/>
<path d="M381.3,212.67 C381.8,212.47 381.18,212.71 384.3,211.5 C387.42,210.29 393.22,208.02 400,205.4 C406.78,202.78 418.33,198.7 425,195.8 C431.67,192.9 435,190.6 440,188 C445,185.4 449.17,183.03 455,180.2 C460.83,177.37 466.67,174.95 475,171 C483.33,167.05 495,161.42 505,156.5 C515,151.58 525,145.53 535,141.5 C545,137.47 554.17,135.72 565,132.3 C575.83,128.88 589.17,123.85 600,121 C610.83,118.15 622.48,116.8 630,115.2 C637.52,113.6 642.08,112.16 645.1,111.4 C648.12,110.64 647.6,110.77 648.1,110.65 L648.1,39.73 L381.3,143.67 Z" fill="#0a1ef2"/>
<path d="M381.3,202.55 C381.8,202.38 381.18,202.59 384.3,201.5 C387.42,200.41 393.22,198.8 400,196 C406.78,193.2 418.33,187.65 425,184.7 C431.67,181.75 435,180.67 440,178.3 C445,175.93 449.17,173.48 455,170.5 C460.83,167.52 466.67,164.45 475,160.4 C483.33,156.35 495,150.62 505,146.2 C515,141.78 525,136.98 535,133.9 C545,130.82 554.17,130.65 565,127.7 C575.83,124.75 589.17,119.85 600,116.2 C610.83,112.55 622.48,108.37 630,105.8 C637.52,103.23 642.08,101.8 645.1,100.8 C648.12,99.8 647.6,99.97 648.1,99.81 L648.1,39.73 L381.3,143.67 Z" fill="#0000e1"/>
<path d="M381.3,196.06 C381.8,195.9 381.18,196.09 384.3,195.1 C387.42,194.11 393.22,193.02 400,190.1 C406.78,187.18 418.33,181.15 425,177.6 C431.67,174.05 435,171.33 440,168.8 C445,166.27 449.17,165.23 455,162.4 C460.83,159.57 466.67,155.93 475,151.8 C483.33,147.67 495,142 505,137.6 C515,133.2 525,128.77 535,125.4 C545,122.03 554.17,120.47 565,117.4 C575.83,114.33 589.17,110.25 600,107 C610.83,103.75 622.48,100.12 630,97.9 C637.52,95.68 642.08,94.54 645.1,93.7 C648.12,92.86 647.6,93 648.1,92.87 L648.1,39.73 L381.3,143.67 Z" fill="#5f008c"/>
<path d="M381.3,188.52 C381.8,188.36 381.18,188.55 384.3,187.6 C387.42,186.65 393.22,185.52 400,182.8 C406.78,180.08 418.33,174.47 425,171.3 C431.67,168.13 435,166.33 440,163.8 C445,161.27 449.17,159.15 455,156.1 C460.83,153.05 466.67,149.67 475,145.5 C483.33,141.33 495,135.55 505,131.1 C515,126.65 525,121.98 535,118.8 C545,115.62 554.17,114.77 565,112 C575.83,109.23 589.17,105.5 600,102.2 C610.83,98.9 622.48,94.6 630,92.2 C637.52,89.8 642.08,88.68 645.1,87.8 C648.12,86.92 647.6,87.07 648.1,86.93 L648.1,39.73 L381.3,143.67 Z" fill="#98005a"/>
<path d="M372.3,143.17 L657.1,32.23 L657.1,197.72 L372.3,308.78 Z M384.3,150.5 L645.1,48.9 L645.1,190.4 L384.3,292.1 Z" fill="#fff" fill-rule="evenodd"/>
<path d="M384.3,150.5V292.1M396.15,145.88V287.48M408.01,141.26V282.85M419.86,136.65V278.23M431.72,132.03V273.61M443.57,127.41V268.99M455.43,122.79V264.36M467.28,118.17V259.74M479.14,113.55V255.12M490.99,108.94V250.5M502.85,104.32V245.87M514.7,99.7V241.25M526.55,95.08V236.63M538.41,90.46V232M550.26,85.85V227.38M562.12,81.23V222.76M573.97,76.61V218.14M585.83,71.99V213.51M597.68,67.37V208.89M609.54,62.75V204.27M621.39,58.14V199.65M633.25,53.52V195.02M645.1,48.9V190.4M384.3,163.37L645.1,61.76M384.3,176.25L645.1,74.63M384.3,189.12L645.1,87.49M384.3,201.99L645.1,100.35M384.3,214.86L645.1,113.22M384.3,227.74L645.1,126.08M384.3,240.61L645.1,138.95M384.3,253.48L645.1,151.81M384.3,266.35L645.1,164.67M384.3,279.23L645.1,177.54" stroke="#000" stroke-opacity="0.17" stroke-width="0.8" fill="none"/>
<path d="M383.5,150.5a0.8,0.8 0 1,0 1.6,0a0.8,0.8 0 1,0 -1.6,0M383.5,163.37a0.8,0.8 0 1,0 1.6,0a0.8,0.8 0 1,0 -1.6,0M383.5,176.25a0.8,0.8 0 1,0 1.6,0a0.8,0.8 0 1,0 -1.6,0M383.5,189.12a0.8,0.8 0 1,0 1.6,0a0.8,0.8 0 1,0 -1.6,0M383.5,201.99a0.8,0.8 0 1,0 1.6,0a0.8,0.8 0 1,0 -1.6,0M383.5,214.86a0.8,0.8 0 1,0 1.6,0a0.8,0.8 0 1,0 -1.6,0M383.5,227.74a0.8,0.8 0 1,0 1.6,0a0.8,0.8 0 1,0 -1.6,0M383.5,240.61a0.8,0.8 0 1,0 1.6,0a0.8,0.8 0 1,0 -1.6,0M383.5,253.48a0.8,0.8 0 1,0 1.6,0a0.8,0.8 0 1,0 -1.6,0M383.5,266.35a0.8,0.8 0 1,0 1.6,0a0.8,0.8 0 1,0 -1.6,0M383.5,279.23a0.8,0.8 0 1,0 1.6,0a0.8,0.8 0 1,0 -1.6,0M383.5,292.1a0.8,0.8 0 1,0 1.6,0a0.8,0.8 0 1,0 -1.6,0M395.35,145.88a0.8,0.8 0 1,0 1.6,0a0.8,0.8 0 1,0 -1.6,0M395.35,158.75a0.8,0.8 0 1,0 1.6,0a0.8,0.8 0 1,0 -1.6,0M395.35,171.63a0.8,0.8 0 1,0 1.6,0a0.8,0.8 0 1,0 -1.6,0M395.35,184.5a0.8,0.8 0 1,0 1.6,0a0.8,0.8 0 1,0 -1.6,0M395.35,197.37a0.8,0.8 0 1,0 1.6,0a0.8,0.8 0 1,0 -1.6,0M395.35,210.24a0.8,0.8 0 1,0 1.6,0a0.8,0.8 0 1,0 -1.6,0M395.35,223.12a0.8,0.8 0 1,0 1.6,0a0.8,0.8 0 1,0 -1.6,0M395.35,235.99a0.8,0.8 0 1,0 1.6,0a0.8,0.8 0 1,0 -1.6,0M395.35,248.86a0.8,0.8 0 1,0 1.6,0a0.8,0.8 0 1,0 -1.6,0M395.35,261.73a0.8,0.8 0 1,0 1.6,0a0.8,0.8 0 1,0 -1.6,0M395.35,274.6a0.8,0.8 0 1,0 1.6,0a0.8,0.8 0 1,0 -1.6,0M395.35,287.48a0.8,0.8 0 1,0 1.6,0a0.8,0.8 0 1,0 -1.6,0M407.21,141.26a0.8,0.8 0 1,0 1.6,0a0.8,0.8 0 1,0 -1.6,0M407.21,154.14a0.8,0.8 0 1,0 1.6,0a0.8,0.8 0 1,0 -1.6,0M407.21,167.01a0.8,0.8 0 1,0 1.6,0a0.8,0.8 0 1,0 -1.6,0M407.21,179.88a0.8,0.8 0 1,0 1.6,0a0.8,0.8 0 1,0 -1.6,0M407.21,192.75a0.8,0.8 0 1,0 1.6,0a0.8,0.8 0 1,0 -1.6,0M407.21,205.62a0.8,0.8 0 1,0 1.6,0a0.8,0.8 0 1,0 -1.6,0M407.21,218.5a0.8,0.8 0 1,0 1.6,0a0.8,0.8 0 1,0 -1.6,0M407.21,231.37a0.8,0.8 0 1,0 1.6,0a0.8,0.8 0 1,0 -1.6,0M407.21,244.24a0.8,0.8 0 1,0 1.6,0a0.8,0.8 0 1,0 -1.6,0M407.21,257.11a0.8,0.8 0 1,0 1.6,0a0.8,0.8 0 1,0 -1.6,0M407.21,269.98a0.8,0.8 0 1,0 1.6,0a0.8,0.8 0 1,0 -1.6,0M407.21,282.85a0.8,0.8 0 1,0 1.6,0a0.8,0.8 0 1,0 -1.6,0M419.06,136.65a0.8,0.8 0 1,0 1.6,0a0.8,0.8 0 1,0 -1.6,0M419.06,149.52a0.8,0.8 0 1,0 1.6,0a0.8,0.8 0 1,0 -1.6,0M419.06,162.39a0.8,0.8 0 1,0 1.6,0a0.8,0.8 0 1,0 -1.6,0M419.06,175.26a0.8,0.8 0 1,0 1.6,0a0.8,0.8 0 1,0 -1.6,0M419.06,188.13a0.8,0.8 0 1,0 1.6,0a0.8,0.8 0 1,0 -1.6,0M419.06,201a0.8,0.8 0 1,0 1.6,0a0.8,0.8 0 1,0 -1.6,0M419.06,213.87a0.8,0.8 0 1,0 1.6,0a0.8,0.8 0 1,0 -1.6,0M419.06,226.75a0.8,0.8 0 1,0 1.6,0a0.8,0.8 0 1,0 -1.6,0M419.06,239.62a0.8,0.8 0 1,0 1.6,0a0.8,0.8 0 1,0 -1.6,0M419.06,252.49a0.8,0.8 0 1,0 1.6,0a0.8,0.8 0 1,0 -1.6,0M419.06,265.36a0.8,0.8 0 1,0 1.6,0a0.8,0.8 0 1,0 -1.6,0M419.06,278.23a0.8,0.8 0 1,0 1.6,0a0.8,0.8 0 1,0 -1.6,0M430.92,132.03a0.8,0.8 0 1,0 1.6,0a0.8,0.8 0 1,0 -1.6,0M430.92,144.9a0.8,0.8 0 1,0 1.6,0a0.8,0.8 0 1,0 -1.6,0M430.92,157.77a0.8,0.8 0 1,0 1.6,0a0.8,0.8 0 1,0 -1.6,0M430.92,170.64a0.8,0.8 0 1,0 1.6,0a0.8,0.8 0 1,0 -1.6,0M430.92,183.51a0.8,0.8 0 1,0 1.6,0a0.8,0.8 0 1,0 -1.6,0M430.92,196.38a0.8,0.8 0 1,0 1.6,0a0.8,0.8 0 1,0 -1.6,0M430.92,209.25a0.8,0.8 0 1,0 1.6,0a0.8,0.8 0 1,0 -1.6,0M430.92,222.12a0.8,0.8 0 1,0 1.6,0a0.8,0.8 0 1,0 -1.6,0M430.92,235a0.8,0.8 0 1,0 1.6,0a0.8,0.8 0 1,0 -1.6,0M430.92,247.87a0.8,0.8 0 1,0 1.6,0a0.8,0.8 0 1,0 -1.6,0M430.92,260.74a0.8,0.8 0 1,0 1.6,0a0.8,0.8 0 1,0 -1.6,0M430.92,273.61a0.8,0.8 0 1,0 1.6,0a0.8,0.8 0 1,0 -1.6,0M442.77,127.41a0.8,0.8 0 1,0 1.6,0a0.8,0.8 0 1,0 -1.6,0M442.77,140.28a0.8,0.8 0 1,0 1.6,0a0.8,0.8 0 1,0 -1.6,0M442.77,153.15a0.8,0.8 0 1,0 1.6,0a0.8,0.8 0 1,0 -1.6,0M442.77,166.02a0.8,0.8 0 1,0 1.6,0a0.8,0.8 0 1,0 -1.6,0M442.77,178.89a0.8,0.8 0 1,0 1.6,0a0.8,0.8 0 1,0 -1.6,0M442.77,191.76a0.8,0.8 0 1,0 1.6,0a0.8,0.8 0 1,0 -1.6,0M442.77,204.63a0.8,0.8 0 1,0 1.6,0a0.8,0.8 0 1,0 -1.6,0M442.77,217.5a0.8,0.8 0 1,0 1.6,0a0.8,0.8 0 1,0 -1.6,0M442.77,230.37a0.8,0.8 0 1,0 1.6,0a0.8,0.8 0 1,0 -1.6,0M442.77,243.25a0.8,0.8 0 1,0 1.6,0a0.8,0.8 0 1,0 -1.6,0M442.77,256.12a0.8,0.8 0 1,0 1.6,0a0.8,0.8 0 1,0 -1.6,0M442.77,268.99a0.8,0.8 0 1,0 1.6,0a0.8,0.8 0 1,0 -1.6,0M454.63,122.79a0.8,0.8 0 1,0 1.6,0a0.8,0.8 0 1,0 -1.6,0M454.63,135.66a0.8,0.8 0 1,0 1.6,0a0.8,0.8 0 1,0 -1.6,0M454.63,148.53a0.8,0.8 0 1,0 1.6,0a0.8,0.8 0 1,0 -1.6,0M454.63,161.4a0.8,0.8 0 1,0 1.6,0a0.8,0.8 0 1,0 -1.6,0M454.63,174.27a0.8,0.8 0 1,0 1.6,0a0.8,0.8 0 1,0 -1.6,0M454.63,187.14a0.8,0.8 0 1,0 1.6,0a0.8,0.8 0 1,0 -1.6,0M454.63,200.01a0.8,0.8 0 1,0 1.6,0a0.8,0.8 0 1,0 -1.6,0M454.63,212.88a0.8,0.8 0 1,0 1.6,0a0.8,0.8 0 1,0 -1.6,0M454.63,225.75a0.8,0.8 0 1,0 1.6,0a0.8,0.8 0 1,0 -1.6,0M454.63,238.62a0.8,0.8 0 1,0 1.6,0a0.8,0.8 0 1,0 -1.6,0M454.63,251.49a0.8,0.8 0 1,0 1.6,0a0.8,0.8 0 1,0 -1.6,0M454.63,264.36a0.8,0.8 0 1,0 1.6,0a0.8,0.8 0 1,0 -1.6,0M466.48,118.17a0.8,0.8 0 1,0 1.6,0a0.8,0.8 0 1,0 -1.6,0M466.48,131.04a0.8,0.8 0 1,0 1.6,0a0.8,0.8 0 1,0 -1.6,0M466.48,143.91a0.8,0.8 0 1,0 1.6,0a0.8,0.8 0 1,0 -1.6,0M466.48,156.78a0.8,0.8 0 1,0 1.6,0a0.8,0.8 0 1,0 -1.6,0M466.48,169.65a0.8,0.8 0 1,0 1.6,0a0.8,0.8 0 1,0 -1.6,0M466.48,182.52a0.8,0.8 0 1,0 1.6,0a0.8,0.8 0 1,0 -1.6,0M466.48,195.39a0.8,0.8 0 1,0 1.6,0a0.8,0.8 0 1,0 -1.6,0M466.48,208.26a0.8,0.8 0 1,0 1.6,0a0.8,0.8 0 1,0 -1.6,0M466.48,221.13a0.8,0.8 0 1,0 1.6,0a0.8,0.8 0 1,0 -1.6,0M466.48,234a0.8,0.8 0 1,0 1.6,0a0.8,0.8 0 1,0 -1.6,0M466.48,246.87a0.8,0.8 0 1,0 1.6,0a0.8,0.8 0 1,0 -1.6,0M466.48,259.74a0.8,0.8 0 1,0 1.6,0a0.8,0.8 0 1,0 -1.6,0M478.34,113.55a0.8,0.8 0 1,0 1.6,0a0.8,0.8 0 1,0 -1.6,0M478.34,126.42a0.8,0.8 0 1,0 1.6,0a0.8,0.8 0 1,0 -1.6,0M478.34,139.29a0.8,0.8 0 1,0 1.6,0a0.8,0.8 0 1,0 -1.6,0M478.34,152.16a0.8,0.8 0 1,0 1.6,0a0.8,0.8 0 1,0 -1.6,0M478.34,165.03a0.8,0.8 0 1,0 1.6,0a0.8,0.8 0 1,0 -1.6,0M478.34,177.9a0.8,0.8 0 1,0 1.6,0a0.8,0.8 0 1,0 -1.6,0M478.34,190.77a0.8,0.8 0 1,0 1.6,0a0.8,0.8 0 1,0 -1.6,0M478.34,203.64a0.8,0.8 0 1,0 1.6,0a0.8,0.8 0 1,0 -1.6,0M478.34,216.51a0.8,0.8 0 1,0 1.6,0a0.8,0.8 0 1,0 -1.6,0M478.34,229.38a0.8,0.8 0 1,0 1.6,0a0.8,0.8 0 1,0 -1.6,0M478.34,242.25a0.8,0.8 0 1,0 1.6,0a0.8,0.8 0 1,0 -1.6,0M478.34,255.12a0.8,0.8 0 1,0 1.6,0a0.8,0.8 0 1,0 -1.6,0M490.19,108.94a0.8,0.8 0 1,0 1.6,0a0.8,0.8 0 1,0 -1.6,0M490.19,121.81a0.8,0.8 0 1,0 1.6,0a0.8,0.8 0 1,0 -1.6,0M490.19,134.67a0.8,0.8 0 1,0 1.6,0a0.8,0.8 0 1,0 -1.6,0M490.19,147.54a0.8,0.8 0 1,0 1.6,0a0.8,0.8 0 1,0 -1.6,0M490.19,160.41a0.8,0.8 0 1,0 1.6,0a0.8,0.8 0 1,0 -1.6,0M490.19,173.28a0.8,0.8 0 1,0 1.6,0a0.8,0.8 0 1,0 -1.6,0M490.19,186.15a0.8,0.8 0 1,0 1.6,0a0.8,0.8 0 1,0 -1.6,0M490.19,199.02a0.8,0.8 0 1,0 1.6,0a0.8,0.8 0 1,0 -1.6,0M490.19,211.89a0.8,0.8 0 1,0 1.6,0a0.8,0.8 0 1,0 -1.6,0M490.19,224.76a0.8,0.8 0 1,0 1.6,0a0.8,0.8 0 1,0 -1.6,0M490.19,237.63a0.8,0.8 0 1,0 1.6,0a0.8,0.8 0 1,0 -1.6,0M490.19,250.5a0.8,0.8 0 1,0 1.6,0a0.8,0.8 0 1,0 -1.6,0M502.05,104.32a0.8,0.8 0 1,0 1.6,0a0.8,0.8 0 1,0 -1.6,0M502.05,117.19a0.8,0.8 0 1,0 1.6,0a0.8,0.8 0 1,0 -1.6,0M502.05,130.06a0.8,0.8 0 1,0 1.6,0a0.8,0.8 0 1,0 -1.6,0M502.05,142.92a0.8,0.8 0 1,0 1.6,0a0.8,0.8 0 1,0 -1.6,0M502.05,155.79a0.8,0.8 0 1,0 1.6,0a0.8,0.8 0 1,0 -1.6,0M502.05,168.66a0.8,0.8 0 1,0 1.6,0a0.8,0.8 0 1,0 -1.6,0M502.05,181.53a0.8,0.8 0 1,0 1.6,0a0.8,0.8 0 1,0 -1.6,0M502.05,194.4a0.8,0.8 0 1,0 1.6,0a0.8,0.8 0 1,0 -1.6,0M502.05,207.27a0.8,0.8 0 1,0 1.6,0a0.8,0.8 0 1,0 -1.6,0M502.05,220.14a0.8,0.8 0 1,0 1.6,0a0.8,0.8 0 1,0 -1.6,0M502.05,233a0.8,0.8 0 1,0 1.6,0a0.8,0.8 0 1,0 -1.6,0M502.05,245.87a0.8,0.8 0 1,0 1.6,0a0.8,0.8 0 1,0 -1.6,0M513.9,99.7a0.8,0.8 0 1,0 1.6,0a0.8,0.8 0 1,0 -1.6,0M513.9,112.57a0.8,0.8 0 1,0 1.6,0a0.8,0.8 0 1,0 -1.6,0M513.9,125.44a0.8,0.8 0 1,0 1.6,0a0.8,0.8 0 1,0 -1.6,0M513.9,138.3a0.8,0.8 0 1,0 1.6,0a0.8,0.8 0 1,0 -1.6,0M513.9,151.17a0.8,0.8 0 1,0 1.6,0a0.8,0.8 0 1,0 -1.6,0M513.9,164.04a0.8,0.8 0 1,0 1.6,0a0.8,0.8 0 1,0 -1.6,0M513.9,176.91a0.8,0.8 0 1,0 1.6,0a0.8,0.8 0 1,0 -1.6,0M513.9,189.78a0.8,0.8 0 1,0 1.6,0a0.8,0.8 0 1,0 -1.6,0M513.9,202.65a0.8,0.8 0 1,0 1.6,0a0.8,0.8 0 1,0 -1.6,0M513.9,215.51a0.8,0.8 0 1,0 1.6,0a0.8,0.8 0 1,0 -1.6,0M513.9,228.38a0.8,0.8 0 1,0 1.6,0a0.8,0.8 0 1,0 -1.6,0M513.9,241.25a0.8,0.8 0 1,0 1.6,0a0.8,0.8 0 1,0 -1.6,0M525.75,95.08a0.8,0.8 0 1,0 1.6,0a0.8,0.8 0 1,0 -1.6,0M525.75,107.95a0.8,0.8 0 1,0 1.6,0a0.8,0.8 0 1,0 -1.6,0M525.75,120.82a0.8,0.8 0 1,0 1.6,0a0.8,0.8 0 1,0 -1.6,0M525.75,133.69a0.8,0.8 0 1,0 1.6,0a0.8,0.8 0 1,0 -1.6,0M525.75,146.55a0.8,0.8 0 1,0 1.6,0a0.8,0.8 0 1,0 -1.6,0M525.75,159.42a0.8,0.8 0 1,0 1.6,0a0.8,0.8 0 1,0 -1.6,0M525.75,172.29a0.8,0.8 0 1,0 1.6,0a0.8,0.8 0 1,0 -1.6,0M525.75,185.16a0.8,0.8 0 1,0 1.6,0a0.8,0.8 0 1,0 -1.6,0M525.75,198.02a0.8,0.8 0 1,0 1.6,0a0.8,0.8 0 1,0 -1.6,0M525.75,210.89a0.8,0.8 0 1,0 1.6,0a0.8,0.8 0 1,0 -1.6,0M525.75,223.76a0.8,0.8 0 1,0 1.6,0a0.8,0.8 0 1,0 -1.6,0M525.75,236.63a0.8,0.8 0 1,0 1.6,0a0.8,0.8 0 1,0 -1.6,0M537.61,90.46a0.8,0.8 0 1,0 1.6,0a0.8,0.8 0 1,0 -1.6,0M537.61,103.33a0.8,0.8 0 1,0 1.6,0a0.8,0.8 0 1,0 -1.6,0M537.61,116.2a0.8,0.8 0 1,0 1.6,0a0.8,0.8 0 1,0 -1.6,0M537.61,129.07a0.8,0.8 0 1,0 1.6,0a0.8,0.8 0 1,0 -1.6,0M537.61,141.93a0.8,0.8 0 1,0 1.6,0a0.8,0.8 0 1,0 -1.6,0M537.61,154.8a0.8,0.8 0 1,0 1.6,0a0.8,0.8 0 1,0 -1.6,0M537.61,167.67a0.8,0.8 0 1,0 1.6,0a0.8,0.8 0 1,0 -1.6,0M537.61,180.54a0.8,0.8 0 1,0 1.6,0a0.8,0.8 0 1,0 -1.6,0M537.61,193.4a0.8,0.8 0 1,0 1.6,0a0.8,0.8 0 1,0 -1.6,0M537.61,206.27a0.8,0.8 0 1,0 1.6,0a0.8,0.8 0 1,0 -1.6,0M537.61,219.14a0.8,0.8 0 1,0 1.6,0a0.8,0.8 0 1,0 -1.6,0M537.61,232a0.8,0.8 0 1,0 1.6,0a0.8,0.8 0 1,0 -1.6,0M549.46,85.85a0.8,0.8 0 1,0 1.6,0a0.8,0.8 0 1,0 -1.6,0M549.46,98.71a0.8,0.8 0 1,0 1.6,0a0.8,0.8 0 1,0 -1.6,0M549.46,111.58a0.8,0.8 0 1,0 1.6,0a0.8,0.8 0 1,0 -1.6,0M549.46,124.45a0.8,0.8 0 1,0 1.6,0a0.8,0.8 0 1,0 -1.6,0M549.46,137.31a0.8,0.8 0 1,0 1.6,0a0.8,0.8 0 1,0 -1.6,0M549.46,150.18a0.8,0.8 0 1,0 1.6,0a0.8,0.8 0 1,0 -1.6,0M549.46,163.05a0.8,0.8 0 1,0 1.6,0a0.8,0.8 0 1,0 -1.6,0M549.46,175.91a0.8,0.8 0 1,0 1.6,0a0.8,0.8 0 1,0 -1.6,0M549.46,188.78a0.8,0.8 0 1,0 1.6,0a0.8,0.8 0 1,0 -1.6,0M549.46,201.65a0.8,0.8 0 1,0 1.6,0a0.8,0.8 0 1,0 -1.6,0M549.46,214.51a0.8,0.8 0 1,0 1.6,0a0.8,0.8 0 1,0 -1.6,0M549.46,227.38a0.8,0.8 0 1,0 1.6,0a0.8,0.8 0 1,0 -1.6,0M561.32,81.23a0.8,0.8 0 1,0 1.6,0a0.8,0.8 0 1,0 -1.6,0M561.32,94.09a0.8,0.8 0 1,0 1.6,0a0.8,0.8 0 1,0 -1.6,0M561.32,106.96a0.8,0.8 0 1,0 1.6,0a0.8,0.8 0 1,0 -1.6,0M561.32,119.83a0.8,0.8 0 1,0 1.6,0a0.8,0.8 0 1,0 -1.6,0M561.32,132.69a0.8,0.8 0 1,0 1.6,0a0.8,0.8 0 1,0 -1.6,0M561.32,145.56a0.8,0.8 0 1,0 1.6,0a0.8,0.8 0 1,0 -1.6,0M561.32,158.43a0.8,0.8 0 1,0 1.6,0a0.8,0.8 0 1,0 -1.6,0M561.32,171.29a0.8,0.8 0 1,0 1.6,0a0.8,0.8 0 1,0 -1.6,0M561.32,184.16a0.8,0.8 0 1,0 1.6,0a0.8,0.8 0 1,0 -1.6,0M561.32,197.03a0.8,0.8 0 1,0 1.6,0a0.8,0.8 0 1,0 -1.6,0M561.32,209.89a0.8,0.8 0 1,0 1.6,0a0.8,0.8 0 1,0 -1.6,0M561.32,222.76a0.8,0.8 0 1,0 1.6,0a0.8,0.8 0 1,0 -1.6,0M573.17,76.61a0.8,0.8 0 1,0 1.6,0a0.8,0.8 0 1,0 -1.6,0M573.17,89.48a0.8,0.8 0 1,0 1.6,0a0.8,0.8 0 1,0 -1.6,0M573.17,102.34a0.8,0.8 0 1,0 1.6,0a0.8,0.8 0 1,0 -1.6,0M573.17,115.21a0.8,0.8 0 1,0 1.6,0a0.8,0.8 0 1,0 -1.6,0M573.17,128.07a0.8,0.8 0 1,0 1.6,0a0.8,0.8 0 1,0 -1.6,0M573.17,140.94a0.8,0.8 0 1,0 1.6,0a0.8,0.8 0 1,0 -1.6,0M573.17,153.81a0.8,0.8 0 1,0 1.6,0a0.8,0.8 0 1,0 -1.6,0M573.17,166.67a0.8,0.8 0 1,0 1.6,0a0.8,0.8 0 1,0 -1.6,0M573.17,179.54a0.8,0.8 0 1,0 1.6,0a0.8,0.8 0 1,0 -1.6,0M573.17,192.4a0.8,0.8 0 1,0 1.6,0a0.8,0.8 0 1,0 -1.6,0M573.17,205.27a0.8,0.8 0 1,0 1.6,0a0.8,0.8 0 1,0 -1.6,0M573.17,218.14a0.8,0.8 0 1,0 1.6,0a0.8,0.8 0 1,0 -1.6,0M585.03,71.99a0.8,0.8 0 1,0 1.6,0a0.8,0.8 0 1,0 -1.6,0M585.03,84.86a0.8,0.8 0 1,0 1.6,0a0.8,0.8 0 1,0 -1.6,0M585.03,97.72a0.8,0.8 0 1,0 1.6,0a0.8,0.8 0 1,0 -1.6,0M585.03,110.59a0.8,0.8 0 1,0 1.6,0a0.8,0.8 0 1,0 -1.6,0M585.03,123.45a0.8,0.8 0 1,0 1.6,0a0.8,0.8 0 1,0 -1.6,0M585.03,136.32a0.8,0.8 0 1,0 1.6,0a0.8,0.8 0 1,0 -1.6,0M585.03,149.19a0.8,0.8 0 1,0 1.6,0a0.8,0.8 0 1,0 -1.6,0M585.03,162.05a0.8,0.8 0 1,0 1.6,0a0.8,0.8 0 1,0 -1.6,0M585.03,174.92a0.8,0.8 0 1,0 1.6,0a0.8,0.8 0 1,0 -1.6,0M585.03,187.78a0.8,0.8 0 1,0 1.6,0a0.8,0.8 0 1,0 -1.6,0M585.03,200.65a0.8,0.8 0 1,0 1.6,0a0.8,0.8 0 1,0 -1.6,0M585.03,213.51a0.8,0.8 0 1,0 1.6,0a0.8,0.8 0 1,0 -1.6,0M596.88,67.37a0.8,0.8 0 1,0 1.6,0a0.8,0.8 0 1,0 -1.6,0M596.88,80.24a0.8,0.8 0 1,0 1.6,0a0.8,0.8 0 1,0 -1.6,0M596.88,93.1a0.8,0.8 0 1,0 1.6,0a0.8,0.8 0 1,0 -1.6,0M596.88,105.97a0.8,0.8 0 1,0 1.6,0a0.8,0.8 0 1,0 -1.6,0M596.88,118.83a0.8,0.8 0 1,0 1.6,0a0.8,0.8 0 1,0 -1.6,0M596.88,131.7a0.8,0.8 0 1,0 1.6,0a0.8,0.8 0 1,0 -1.6,0M596.88,144.56a0.8,0.8 0 1,0 1.6,0a0.8,0.8 0 1,0 -1.6,0M596.88,157.43a0.8,0.8 0 1,0 1.6,0a0.8,0.8 0 1,0 -1.6,0M596.88,170.3a0.8,0.8 0 1,0 1.6,0a0.8,0.8 0 1,0 -1.6,0M596.88,183.16a0.8,0.8 0 1,0 1.6,0a0.8,0.8 0 1,0 -1.6,0M596.88,196.03a0.8,0.8 0 1,0 1.6,0a0.8,0.8 0 1,0 -1.6,0M596.88,208.89a0.8,0.8 0 1,0 1.6,0a0.8,0.8 0 1,0 -1.6,0M608.74,62.75a0.8,0.8 0 1,0 1.6,0a0.8,0.8 0 1,0 -1.6,0M608.74,75.62a0.8,0.8 0 1,0 1.6,0a0.8,0.8 0 1,0 -1.6,0M608.74,88.48a0.8,0.8 0 1,0 1.6,0a0.8,0.8 0 1,0 -1.6,0M608.74,101.35a0.8,0.8 0 1,0 1.6,0a0.8,0.8 0 1,0 -1.6,0M608.74,114.21a0.8,0.8 0 1,0 1.6,0a0.8,0.8 0 1,0 -1.6,0M608.74,127.08a0.8,0.8 0 1,0 1.6,0a0.8,0.8 0 1,0 -1.6,0M608.74,139.94a0.8,0.8 0 1,0 1.6,0a0.8,0.8 0 1,0 -1.6,0M608.74,152.81a0.8,0.8 0 1,0 1.6,0a0.8,0.8 0 1,0 -1.6,0M608.74,165.67a0.8,0.8 0 1,0 1.6,0a0.8,0.8 0 1,0 -1.6,0M608.74,178.54a0.8,0.8 0 1,0 1.6,0a0.8,0.8 0 1,0 -1.6,0M608.74,191.4a0.8,0.8 0 1,0 1.6,0a0.8,0.8 0 1,0 -1.6,0M608.74,204.27a0.8,0.8 0 1,0 1.6,0a0.8,0.8 0 1,0 -1.6,0M620.59,58.14a0.8,0.8 0 1,0 1.6,0a0.8,0.8 0 1,0 -1.6,0M620.59,71a0.8,0.8 0 1,0 1.6,0a0.8,0.8 0 1,0 -1.6,0M620.59,83.87a0.8,0.8 0 1,0 1.6,0a0.8,0.8 0 1,0 -1.6,0M620.59,96.73a0.8,0.8 0 1,0 1.6,0a0.8,0.8 0 1,0 -1.6,0M620.59,109.59a0.8,0.8 0 1,0 1.6,0a0.8,0.8 0 1,0 -1.6,0M620.59,122.46a0.8,0.8 0 1,0 1.6,0a0.8,0.8 0 1,0 -1.6,0M620.59,135.32a0.8,0.8 0 1,0 1.6,0a0.8,0.8 0 1,0 -1.6,0M620.59,148.19a0.8,0.8 0 1,0 1.6,0a0.8,0.8 0 1,0 -1.6,0M620.59,161.05a0.8,0.8 0 1,0 1.6,0a0.8,0.8 0 1,0 -1.6,0M620.59,173.92a0.8,0.8 0 1,0 1.6,0a0.8,0.8 0 1,0 -1.6,0M620.59,186.78a0.8,0.8 0 1,0 1.6,0a0.8,0.8 0 1,0 -1.6,0M620.59,199.65a0.8,0.8 0 1,0 1.6,0a0.8,0.8 0 1,0 -1.6,0M632.45,53.52a0.8,0.8 0 1,0 1.6,0a0.8,0.8 0 1,0 -1.6,0M632.45,66.38a0.8,0.8 0 1,0 1.6,0a0.8,0.8 0 1,0 -1.6,0M632.45,79.25a0.8,0.8 0 1,0 1.6,0a0.8,0.8 0 1,0 -1.6,0M632.45,92.11a0.8,0.8 0 1,0 1.6,0a0.8,0.8 0 1,0 -1.6,0M632.45,104.97a0.8,0.8 0 1,0 1.6,0a0.8,0.8 0 1,0 -1.6,0M632.45,117.84a0.8,0.8 0 1,0 1.6,0a0.8,0.8 0 1,0 -1.6,0M632.45,130.7a0.8,0.8 0 1,0 1.6,0a0.8,0.8 0 1,0 -1.6,0M632.45,143.57a0.8,0.8 0 1,0 1.6,0a0.8,0.8 0 1,0 -1.6,0M632.45,156.43a0.8,0.8 0 1,0 1.6,0a0.8,0.8 0 1,0 -1.6,0M632.45,169.29a0.8,0.8 0 1,0 1.6,0a0.8,0.8 0 1,0 -1.6,0M632.45,182.16a0.8,0.8 0 1,0 1.6,0a0.8,0.8 0 1,0 -1.6,0M632.45,195.02a0.8,0.8 0 1,0 1.6,0a0.8,0.8 0 1,0 -1.6,0M644.3,48.9a0.8,0.8 0 1,0 1.6,0a0.8,0.8 0 1,0 -1.6,0M644.3,61.76a0.8,0.8 0 1,0 1.6,0a0.8,0.8 0 1,0 -1.6,0M644.3,74.63a0.8,0.8 0 1,0 1.6,0a0.8,0.8 0 1,0 -1.6,0M644.3,87.49a0.8,0.8 0 1,0 1.6,0a0.8,0.8 0 1,0 -1.6,0M644.3,100.35a0.8,0.8 0 1,0 1.6,0a0.8,0.8 0 1,0 -1.6,0M644.3,113.22a0.8,0.8 0 1,0 1.6,0a0.8,0.8 0 1,0 -1.6,0M644.3,126.08a0.8,0.8 0 1,0 1.6,0a0.8,0.8 0 1,0 -1.6,0M644.3,138.95a0.8,0.8 0 1,0 1.6,0a0.8,0.8 0 1,0 -1.6,0M644.3,151.81a0.8,0.8 0 1,0 1.6,0a0.8,0.8 0 1,0 -1.6,0M644.3,164.67a0.8,0.8 0 1,0 1.6,0a0.8,0.8 0 1,0 -1.6,0M644.3,177.54a0.8,0.8 0 1,0 1.6,0a0.8,0.8 0 1,0 -1.6,0M644.3,190.4a0.8,0.8 0 1,0 1.6,0a0.8,0.8 0 1,0 -1.6,0" fill="#000" fill-opacity="0.6"/>
<mask id="mr" maskUnits="userSpaceOnUse" x="0" y="0" width="685" height="358"><rect width="685" height="358" fill="#fff"/><rect x="-3.5" y="-3" width="7" height="6" transform="translate(463.5,151.6) rotate(-25)" fill="#000"/><rect x="-6.5" y="-3" width="13" height="6" transform="translate(417,189.2) rotate(-25)" fill="#000"/><rect x="-8.5" y="-3" width="17" height="6" transform="translate(523,150) rotate(-22)" fill="#000"/><rect x="-8.5" y="-3" width="17" height="6" transform="translate(577,114.6) rotate(-12)" fill="#000"/><rect x="-3.5" y="-3" width="7" height="6" transform="translate(618.2,135) rotate(-15)" fill="#000"/><rect x="-8.5" y="-3" width="17" height="6" transform="translate(437.5,227) rotate(-25)" fill="#000"/><rect x="-6" y="-3" width="12" height="6" transform="translate(556.4,211.2) rotate(-25)" fill="#000"/></mask>
<g clip-path="url(#cr)">
<path d="M384.3,283 C390.25,280.9 407.38,275.27 420,270.4 C432.62,265.53 446.67,259.53 460,253.8 C473.33,248.07 486.67,241.7 500,236 C513.33,230.3 526.67,225.53 540,219.6 C553.33,213.67 566.67,205.9 580,200.4 C593.33,194.9 609.15,189.83 620,186.6 C630.85,183.37 640.92,181.93 645.1,181M384.3,248.5 C390.25,246.28 410.72,238.83 420,235.2 C429.28,231.57 433.33,229.9 440,226.7 C446.67,223.5 450,220.5 460,216 C470,211.5 490,203.78 500,199.7 C510,195.62 513.33,194.03 520,191.5 C526.67,188.97 530,188.13 540,184.5 C550,180.87 566.67,174.93 580,169.7 C593.33,164.47 609.15,157.03 620,153.1 C630.85,149.17 640.92,147.27 645.1,146.1M384.3,228 C386.08,227.27 389.05,226.27 395,223.6 C400.95,220.93 412.5,215.43 420,212 C427.5,208.57 434.17,205.75 440,203 C445.83,200.25 450,197.75 455,195.5 C460,193.25 465,191.58 470,189.5 C475,187.42 480,185.25 485,183 C490,180.75 495,178.17 500,176 C505,173.83 508.33,172.92 515,170 C521.67,167.08 529.17,162.3 540,158.5 C550.83,154.7 566.67,151.13 580,147.2 C593.33,143.27 609.15,138.32 620,134.9 C630.85,131.48 640.92,128.07 645.1,126.7M384.3,211.5 C386.92,210.48 393.22,208.02 400,205.4 C406.78,202.78 418.33,198.7 425,195.8 C431.67,192.9 435,190.6 440,188 C445,185.4 449.17,183.03 455,180.2 C460.83,177.37 466.67,174.95 475,171 C483.33,167.05 495,161.42 505,156.5 C515,151.58 525,145.53 535,141.5 C545,137.47 554.17,135.72 565,132.3 C575.83,128.88 589.17,123.85 600,121 C610.83,118.15 622.48,116.8 630,115.2 C637.52,113.6 642.58,112.03 645.1,111.4M384.3,201.5 C386.92,200.58 393.22,198.8 400,196 C406.78,193.2 418.33,187.65 425,184.7 C431.67,181.75 435,180.67 440,178.3 C445,175.93 449.17,173.48 455,170.5 C460.83,167.52 466.67,164.45 475,160.4 C483.33,156.35 495,150.62 505,146.2 C515,141.78 525,136.98 535,133.9 C545,130.82 554.17,130.65 565,127.7 C575.83,124.75 589.17,119.85 600,116.2 C610.83,112.55 622.48,108.37 630,105.8 C637.52,103.23 642.58,101.63 645.1,100.8M384.3,195.1 C386.92,194.27 393.22,193.02 400,190.1 C406.78,187.18 418.33,181.15 425,177.6 C431.67,174.05 435,171.33 440,168.8 C445,166.27 449.17,165.23 455,162.4 C460.83,159.57 466.67,155.93 475,151.8 C483.33,147.67 495,142 505,137.6 C515,133.2 525,128.77 535,125.4 C545,122.03 554.17,120.47 565,117.4 C575.83,114.33 589.17,110.25 600,107 C610.83,103.75 622.48,100.12 630,97.9 C637.52,95.68 642.58,94.4 645.1,93.7M384.3,187.6 C386.92,186.8 393.22,185.52 400,182.8 C406.78,180.08 418.33,174.47 425,171.3 C431.67,168.13 435,166.33 440,163.8 C445,161.27 449.17,159.15 455,156.1 C460.83,153.05 466.67,149.67 475,145.5 C483.33,141.33 495,135.55 505,131.1 C515,126.65 525,121.98 535,118.8 C545,115.62 554.17,114.77 565,112 C575.83,109.23 589.17,105.5 600,102.2 C610.83,98.9 622.48,94.6 630,92.2 C637.52,89.8 642.58,88.53 645.1,87.8" stroke="#000" stroke-width="1" fill="none" mask="url(#mr)"/>
</g>
<path d="M27.6,33.3V299.5H295.3V33.3" stroke="#8a8a8a" stroke-width="1" fill="none"/>
<path d="M25.3,42.2H27.6M25.3,67.93H27.6M25.3,93.66H27.6M25.3,119.39H27.6M25.3,145.12H27.6M25.3,170.85H27.6M25.3,196.58H27.6M25.3,222.31H27.6M25.3,248.04H27.6M25.3,273.77H27.6M25.3,299.5H27.6M27.6,299.5V301.8M48.16,299.5V301.8M68.72,299.5V301.8M89.28,299.5V301.8M109.84,299.5V301.8M130.4,299.5V301.8M150.96,299.5V301.8M171.52,299.5V301.8M192.08,299.5V301.8M212.64,299.5V301.8M233.2,299.5V301.8M253.76,299.5V301.8M274.32,299.5V301.8M294.88,299.5V301.8" stroke="#8a8a8a" stroke-width="0.8"/>
<g font-size="6.6" fill="#44546a" letter-spacing="0.35"><text x="24.6" y="45.2" text-anchor="end">10</text><text x="24.6" y="70.93" text-anchor="end">9.5</text><text x="24.6" y="96.66" text-anchor="end">9</text><text x="24.6" y="122.39" text-anchor="end">8.5</text><text x="24.6" y="148.12" text-anchor="end">8</text><text x="24.6" y="173.85" text-anchor="end">7.5</text><text x="24.6" y="199.58" text-anchor="end">7</text><text x="24.6" y="225.31" text-anchor="end">6.5</text><text x="24.6" y="251.04" text-anchor="end">6</text><text x="24.6" y="276.77" text-anchor="end">5.5</text><text x="24.6" y="302.5" text-anchor="end">5</text><text x="27.6" y="309.2" text-anchor="middle">8</text><text x="48.16" y="309.2" text-anchor="middle">8.4</text><text x="68.72" y="309.2" text-anchor="middle">8.8</text><text x="89.28" y="309.2" text-anchor="middle">9.2</text><text x="109.84" y="309.2" text-anchor="middle">9.6</text><text x="130.4" y="309.2" text-anchor="middle">10</text><text x="150.96" y="309.2" text-anchor="middle">10.4</text><text x="171.52" y="309.2" text-anchor="middle">10.8</text><text x="192.08" y="309.2" text-anchor="middle">11.2</text><text x="212.64" y="309.2" text-anchor="middle">11.6</text><text x="233.2" y="309.2" text-anchor="middle">12</text><text x="253.76" y="309.2" text-anchor="middle">12.4</text><text x="274.32" y="309.2" text-anchor="middle">12.8</text><text x="294.88" y="309.2" text-anchor="middle">13.2</text></g>
<text x="161.2" y="320.8" font-size="9" fill="#44546a" text-anchor="middle">x [m]</text>
<text transform="translate(8.2,165.7) rotate(-90)" font-size="9" fill="#44546a" text-anchor="middle">y [m]</text>
<path d="M381.5,33.3V299.5H649.2V33.3" stroke="#8a8a8a" stroke-width="1" fill="none"/>
<path d="M379.2,42.2H381.5M379.2,67.93H381.5M379.2,93.66H381.5M379.2,119.39H381.5M379.2,145.12H381.5M379.2,170.85H381.5M379.2,196.58H381.5M379.2,222.31H381.5M379.2,248.04H381.5M379.2,273.77H381.5M379.2,299.5H381.5M381.5,299.5V301.8M402.06,299.5V301.8M422.62,299.5V301.8M443.18,299.5V301.8M463.74,299.5V301.8M484.3,299.5V301.8M504.86,299.5V301.8M525.42,299.5V301.8M545.98,299.5V301.8M566.54,299.5V301.8M587.1,299.5V301.8M607.66,299.5V301.8M628.22,299.5V301.8M648.78,299.5V301.8" stroke="#8a8a8a" stroke-width="0.8"/>
<g font-size="6.6" fill="#44546a" letter-spacing="0.35"><text x="378.5" y="45.2" text-anchor="end">10</text><text x="378.5" y="70.93" text-anchor="end">9.5</text><text x="378.5" y="96.66" text-anchor="end">9</text><text x="378.5" y="122.39" text-anchor="end">8.5</text><text x="378.5" y="148.12" text-anchor="end">8</text><text x="378.5" y="173.85" text-anchor="end">7.5</text><text x="378.5" y="199.58" text-anchor="end">7</text><text x="378.5" y="225.31" text-anchor="end">6.5</text><text x="378.5" y="251.04" text-anchor="end">6</text><text x="378.5" y="276.77" text-anchor="end">5.5</text><text x="378.5" y="302.5" text-anchor="end">5</text><text x="381.5" y="309.2" text-anchor="middle">8</text><text x="402.06" y="309.2" text-anchor="middle">8.4</text><text x="422.62" y="309.2" text-anchor="middle">8.8</text><text x="443.18" y="309.2" text-anchor="middle">9.2</text><text x="463.74" y="309.2" text-anchor="middle">9.6</text><text x="484.3" y="309.2" text-anchor="middle">10</text><text x="504.86" y="309.2" text-anchor="middle">10.4</text><text x="525.42" y="309.2" text-anchor="middle">10.8</text><text x="545.98" y="309.2" text-anchor="middle">11.2</text><text x="566.54" y="309.2" text-anchor="middle">11.6</text><text x="587.1" y="309.2" text-anchor="middle">12</text><text x="607.66" y="309.2" text-anchor="middle">12.4</text><text x="628.22" y="309.2" text-anchor="middle">12.8</text><text x="648.78" y="309.2" text-anchor="middle">13.2</text></g>
<text x="515.1" y="320.8" font-size="9" fill="#44546a" text-anchor="middle">x [m]</text>
<text transform="translate(362.1,165.7) rotate(-90)" font-size="9" fill="#44546a" text-anchor="middle">y [m]</text>
<line x1="30.7" y1="112" x2="30.7" y2="150" stroke="#c6c6c6" stroke-width="3.1"/>
<line x1="31" y1="111.7" x2="107" y2="76.4" stroke="#8c8c8c" stroke-width="5" stroke-linecap="round"/>
<line x1="31" y1="111.7" x2="107" y2="76.4" stroke="#c4c4c4" stroke-width="3.6" stroke-linecap="round"/>
<line x1="289.6" y1="9" x2="289.6" y2="47.5" stroke="#c6c6c6" stroke-width="3.7"/>
<line x1="214.8" y1="42.7" x2="289.6" y2="8.4" stroke="#8c8c8c" stroke-width="5" stroke-linecap="round"/>
<line x1="214.8" y1="42.7" x2="289.6" y2="8.4" stroke="#c4c4c4" stroke-width="3.6" stroke-linecap="round"/>
<text transform="translate(37,98.6) rotate(-23.5)" font-size="12.2" fill="#666" stroke="#666" stroke-width="0.12">Solar Panel</text>
<text transform="translate(219.8,31.8) rotate(-24.3)" font-size="12.2" fill="#666" stroke="#666" stroke-width="0.12">Solar Panel</text>
<text transform="translate(35.2,126) rotate(-21.6)" font-size="9.7" fill="#000" stroke="#000" stroke-width="0.15">Foundation</text>
<text transform="translate(244,43.3) rotate(-21.6)" font-size="9.7" fill="#000" stroke="#000" stroke-width="0.15">Foundation</text>
<line x1="29.9" y1="133.4" x2="54.6" y2="124.1" stroke="#000" stroke-width="1.3"/>
<line x1="30.5" y1="133.4" x2="30.5" y2="146.1" stroke="#000" stroke-width="1"/>
<path d="M28.5,145.5L32.5,145.5L30.5,149.1Z" fill="#000"/>
<line x1="42.25" y1="128.75" x2="42.25" y2="141.3" stroke="#000" stroke-width="1"/>
<path d="M40.25,140.7L44.25,140.7L42.25,144.3Z" fill="#000"/>
<line x1="54" y1="124.1" x2="54" y2="136.5" stroke="#000" stroke-width="1"/>
<path d="M52,135.9L56,135.9L54,139.5Z" fill="#000"/>
<line x1="266.5" y1="39.4" x2="291.2" y2="30.2" stroke="#000" stroke-width="1.3"/>
<line x1="267.1" y1="39.4" x2="267.1" y2="52.5" stroke="#000" stroke-width="1"/>
<path d="M265.1,51.9L269.1,51.9L267.1,55.5Z" fill="#000"/>
<line x1="278.85" y1="34.8" x2="278.85" y2="48" stroke="#000" stroke-width="1"/>
<path d="M276.85,47.4L280.85,47.4L278.85,51Z" fill="#000"/>
<line x1="290.6" y1="30.2" x2="290.6" y2="43.3" stroke="#000" stroke-width="1"/>
<path d="M288.6,42.7L292.6,42.7L290.6,46.3Z" fill="#000"/>
<line x1="111.9" y1="101.0" x2="208.8" y2="63.9" stroke="#4472c4" stroke-width="1.6"/>
<line x1="112.4" y1="101" x2="112.4" y2="113.62" stroke="#4472c4" stroke-width="1.1"/>
<path d="M110.2,112.92L114.6,112.92L112.4,117.62Z" fill="#4472c4"/>
<line x1="124.39" y1="96.36" x2="124.39" y2="108.87" stroke="#4472c4" stroke-width="1.1"/>
<path d="M122.19,108.17L126.59,108.17L124.39,112.87Z" fill="#4472c4"/>
<line x1="136.38" y1="91.72" x2="136.38" y2="104.13" stroke="#4472c4" stroke-width="1.1"/>
<path d="M134.18,103.43L138.57,103.43L136.38,108.13Z" fill="#4472c4"/>
<line x1="148.36" y1="87.09" x2="148.36" y2="99.38" stroke="#4472c4" stroke-width="1.1"/>
<path d="M146.16,98.68L150.56,98.68L148.36,103.38Z" fill="#4472c4"/>
<line x1="160.35" y1="82.45" x2="160.35" y2="94.64" stroke="#4472c4" stroke-width="1.1"/>
<path d="M158.15,93.94L162.55,93.94L160.35,98.64Z" fill="#4472c4"/>
<line x1="172.34" y1="77.81" x2="172.34" y2="89.89" stroke="#4472c4" stroke-width="1.1"/>
<path d="M170.14,89.19L174.54,89.19L172.34,93.89Z" fill="#4472c4"/>
<line x1="184.33" y1="73.17" x2="184.33" y2="85.15" stroke="#4472c4" stroke-width="1.1"/>
<path d="M182.13,84.45L186.53,84.45L184.33,89.15Z" fill="#4472c4"/>
<line x1="196.31" y1="68.54" x2="196.31" y2="80.4" stroke="#4472c4" stroke-width="1.1"/>
<path d="M194.11,79.7L198.51,79.7L196.31,84.4Z" fill="#4472c4"/>
<line x1="208.3" y1="63.9" x2="208.3" y2="75.66" stroke="#4472c4" stroke-width="1.1"/>
<path d="M206.1,74.96L210.5,74.96L208.3,79.66Z" fill="#4472c4"/>
<text transform="translate(136.3,85.6) rotate(-21.5)" font-size="12.3" fill="#2e75b6" stroke="#2e75b6" stroke-width="0.22">Rainfall</text>
<line x1="385.3" y1="112" x2="385.3" y2="150" stroke="#c6c6c6" stroke-width="3.1"/>
<line x1="385.6" y1="111.7" x2="461.6" y2="76.4" stroke="#8c8c8c" stroke-width="5" stroke-linecap="round"/>
<line x1="385.6" y1="111.7" x2="461.6" y2="76.4" stroke="#c4c4c4" stroke-width="3.6" stroke-linecap="round"/>
<line x1="644.2" y1="9" x2="644.2" y2="47.5" stroke="#c6c6c6" stroke-width="3.7"/>
<line x1="569.4" y1="42.7" x2="644.2" y2="8.4" stroke="#8c8c8c" stroke-width="5" stroke-linecap="round"/>
<line x1="569.4" y1="42.7" x2="644.2" y2="8.4" stroke="#c4c4c4" stroke-width="3.6" stroke-linecap="round"/>
<text transform="translate(391.6,98.6) rotate(-23.5)" font-size="12.2" fill="#666" stroke="#666" stroke-width="0.12">Solar Panel</text>
<text transform="translate(574.4,31.8) rotate(-24.3)" font-size="12.2" fill="#666" stroke="#666" stroke-width="0.12">Solar Panel</text>
<text transform="translate(389.8,126) rotate(-21.6)" font-size="9.7" fill="#000" stroke="#000" stroke-width="0.15">Foundation</text>
<text transform="translate(598.6,43.3) rotate(-21.6)" font-size="9.7" fill="#000" stroke="#000" stroke-width="0.15">Foundation</text>
<line x1="384.5" y1="133.4" x2="409.2" y2="124.1" stroke="#000" stroke-width="1.3"/>
<line x1="385.1" y1="133.4" x2="385.1" y2="146.1" stroke="#000" stroke-width="1"/>
<path d="M383.1,145.5L387.1,145.5L385.1,149.1Z" fill="#000"/>
<line x1="396.85" y1="128.75" x2="396.85" y2="141.3" stroke="#000" stroke-width="1"/>
<path d="M394.85,140.7L398.85,140.7L396.85,144.3Z" fill="#000"/>
<line x1="408.6" y1="124.1" x2="408.6" y2="136.5" stroke="#000" stroke-width="1"/>
<path d="M406.6,135.9L410.6,135.9L408.6,139.5Z" fill="#000"/>
<line x1="621.1" y1="39.4" x2="645.8" y2="30.2" stroke="#000" stroke-width="1.3"/>
<line x1="621.7" y1="39.4" x2="621.7" y2="52.5" stroke="#000" stroke-width="1"/>
<path d="M619.7,51.9L623.7,51.9L621.7,55.5Z" fill="#000"/>
<line x1="633.45" y1="34.8" x2="633.45" y2="48" stroke="#000" stroke-width="1"/>
<path d="M631.45,47.4L635.45,47.4L633.45,51Z" fill="#000"/>
<line x1="645.2" y1="30.2" x2="645.2" y2="43.3" stroke="#000" stroke-width="1"/>
<path d="M643.2,42.7L647.2,42.7L645.2,46.3Z" fill="#000"/>
<line x1="466.5" y1="101.0" x2="563.4" y2="63.9" stroke="#4472c4" stroke-width="1.6"/>
<line x1="467" y1="101" x2="467" y2="113.62" stroke="#4472c4" stroke-width="1.1"/>
<path d="M464.8,112.92L469.2,112.92L467,117.62Z" fill="#4472c4"/>
<line x1="478.99" y1="96.36" x2="478.99" y2="108.87" stroke="#4472c4" stroke-width="1.1"/>
<path d="M476.79,108.17L481.19,108.17L478.99,112.87Z" fill="#4472c4"/>
<line x1="490.98" y1="91.72" x2="490.98" y2="104.13" stroke="#4472c4" stroke-width="1.1"/>
<path d="M488.78,103.43L493.18,103.43L490.98,108.13Z" fill="#4472c4"/>
<line x1="502.96" y1="87.09" x2="502.96" y2="99.38" stroke="#4472c4" stroke-width="1.1"/>
<path d="M500.76,98.68L505.16,98.68L502.96,103.38Z" fill="#4472c4"/>
<line x1="514.95" y1="82.45" x2="514.95" y2="94.64" stroke="#4472c4" stroke-width="1.1"/>
<path d="M512.75,93.94L517.15,93.94L514.95,98.64Z" fill="#4472c4"/>
<line x1="526.94" y1="77.81" x2="526.94" y2="89.89" stroke="#4472c4" stroke-width="1.1"/>
<path d="M524.74,89.19L529.14,89.19L526.94,93.89Z" fill="#4472c4"/>
<line x1="538.93" y1="73.17" x2="538.93" y2="85.15" stroke="#4472c4" stroke-width="1.1"/>
<path d="M536.73,84.45L541.13,84.45L538.93,89.15Z" fill="#4472c4"/>
<line x1="550.91" y1="68.54" x2="550.91" y2="80.4" stroke="#4472c4" stroke-width="1.1"/>
<path d="M548.71,79.7L553.11,79.7L550.91,84.4Z" fill="#4472c4"/>
<line x1="562.9" y1="63.9" x2="562.9" y2="75.66" stroke="#4472c4" stroke-width="1.1"/>
<path d="M560.7,74.96L565.1,74.96L562.9,79.66Z" fill="#4472c4"/>
<text transform="translate(490.9,85.6) rotate(-21.5)" font-size="12.3" fill="#2e75b6" stroke="#2e75b6" stroke-width="0.22">Rainfall</text>
<rect x="304" y="34.4" width="10.5" height="19.9" fill="#98005a"/>
<rect x="304" y="54" width="10.5" height="39.45" fill="#0610cf"/>
<rect x="304" y="93.15" width="10.5" height="39.45" fill="#1450ff"/>
<rect x="304" y="132.3" width="10.5" height="39.45" fill="#17bfd3"/>
<rect x="304" y="171.45" width="10.5" height="39.45" fill="#68f040"/>
<rect x="304" y="210.6" width="10.5" height="39.45" fill="#e2ef05"/>
<rect x="304" y="249.75" width="10.5" height="39.45" fill="#ff7d05"/>
<rect x="304" y="288.9" width="10.5" height="19.8" fill="#ff0a0a"/>
<path d="M304,54H315.7M304,93.15H315.7M304,132.3H315.7M304,171.45H315.7M304,210.6H315.7M304,249.75H315.7M304,288.9H315.7" stroke="#000" stroke-opacity="0.75" stroke-width="0.8"/>
<g font-size="6.5" fill="#44546a" letter-spacing="0.35"><text x="317.3" y="56.4">5</text><text x="317.3" y="95.55">0</text><text x="317.3" y="134.7">−5</text><text x="317.3" y="173.85">−10</text><text x="317.3" y="213">−15</text><text x="317.3" y="252.15">−20</text><text x="317.3" y="291.3">−25</text></g>
<text x="304.7" y="30.2" font-size="8.5" fill="#44546a">uw (kPa)</text>
<rect x="657.6" y="37.1" width="10.1" height="27.07" fill="#5f008c"/>
<rect x="657.6" y="63.87" width="10.1" height="27.07" fill="#0000e1"/>
<rect x="657.6" y="90.64" width="10.1" height="27.07" fill="#0a1ef2"/>
<rect x="657.6" y="117.41" width="10.1" height="27.07" fill="#168cfa"/>
<rect x="657.6" y="144.18" width="10.1" height="27.07" fill="#28d2c3"/>
<rect x="657.6" y="170.95" width="10.1" height="27.07" fill="#50f050"/>
<rect x="657.6" y="197.72" width="10.1" height="27.07" fill="#acf20a"/>
<rect x="657.6" y="224.49" width="10.1" height="27.07" fill="#ffdc00"/>
<rect x="657.6" y="251.26" width="10.1" height="27.07" fill="#ff8200"/>
<rect x="657.6" y="278.03" width="10.1" height="27.07" fill="#ff2000"/>
<path d="M657.6,63.87H668.9000000000001M657.6,90.64H668.9000000000001M657.6,117.41H668.9000000000001M657.6,144.18H668.9000000000001M657.6,170.95H668.9000000000001M657.6,197.72H668.9000000000001M657.6,224.49H668.9000000000001M657.6,251.26H668.9000000000001M657.6,278.03H668.9000000000001" stroke="#000" stroke-opacity="0.75" stroke-width="0.8"/>
<g font-size="6.5" fill="#44546a" letter-spacing="0.35"><text x="670.5" y="39.5">3</text><text x="670.5" y="66.27">2.75</text><text x="670.5" y="93.04">2.5</text><text x="670.5" y="119.81">2.25</text><text x="670.5" y="146.58">2</text><text x="670.5" y="173.35">1.75</text><text x="670.5" y="200.12">1.5</text><text x="670.5" y="226.89">1.25</text><text x="670.5" y="253.66">1</text><text x="670.5" y="280.43">0.75</text><text x="670.5" y="307.2">0.5</text></g>
<text x="658" y="33.4" font-size="7" fill="#44546a">FOS</text>
<path d="M657.6,37.4H668.9" stroke="#000" stroke-opacity="0.75" stroke-width="0.8"/>
<text transform="translate(52.9,268.8) rotate(-18)" font-size="7.8" font-weight="bold" fill="#000" stroke="#000" stroke-width="0.2" text-anchor="middle" dy="2.5">0</text>
<text transform="translate(91.8,190.4) rotate(-30)" font-size="7.8" font-weight="bold" fill="#000" stroke="#000" stroke-width="0.2" text-anchor="middle" dy="2.5">−10</text>
<text transform="translate(204.6,173) rotate(-14)" font-size="7.8" font-weight="bold" fill="#000" stroke="#000" stroke-width="0.2" text-anchor="middle" dy="2.5">−5</text>
<text transform="translate(241,99.4) rotate(0)" font-size="7.8" font-weight="bold" fill="#000" stroke="#000" stroke-width="0.2" text-anchor="middle" dy="2.5">−15</text>
<text transform="translate(463.5,151.6) rotate(-25)" font-size="7.8" font-weight="bold" fill="#fff" stroke="#fff" stroke-width="0.2" text-anchor="middle" dy="2.5">3</text>
<text transform="translate(417,189.2) rotate(-25)" font-size="7.8" font-weight="bold" fill="#fff" stroke="#fff" stroke-width="0.2" text-anchor="middle" dy="2.5">2.5</text>
<text transform="translate(523,150) rotate(-22)" font-size="7.8" font-weight="bold" fill="#fff" stroke="#fff" stroke-width="0.2" text-anchor="middle" dy="2.5">2.25</text>
<text transform="translate(577,114.6) rotate(-12)" font-size="7.8" font-weight="bold" fill="#fff" stroke="#fff" stroke-width="0.2" text-anchor="middle" dy="2.5">2.75</text>
<text transform="translate(618.2,135) rotate(-15)" font-size="7.8" font-weight="bold" fill="#fff" stroke="#fff" stroke-width="0.2" text-anchor="middle" dy="2.5">2</text>
<text transform="translate(437.5,227) rotate(-25)" font-size="7.8" font-weight="bold" fill="#fff" stroke="#fff" stroke-width="0.2" text-anchor="middle" dy="2.5">1.75</text>
<text transform="translate(556.4,211.2) rotate(-25)" font-size="7.8" font-weight="bold" fill="#fff" stroke="#fff" stroke-width="0.2" text-anchor="middle" dy="2.5">1.5</text>
<rect x="547.1" y="223.9" width="6.7" height="6.6" fill="#ff0000"/>
<path d="M572.7,241.5L557.3,231.4M557.3,231.4L562.6,231.7M557.3,231.4L559.9,236.3" stroke="#e84a4a" stroke-width="1" fill="none"/>
<rect x="573" y="232.6" width="67.3" height="18.7" fill="#fff" stroke="#e06666" stroke-width="0.9"/>
<g font-family="Liberation Serif, serif" font-weight="bold" fill="#1a1a1a"><text x="576.6" y="245.6" font-size="10.6" font-style="italic">FOS</text><text x="596.6" y="248" font-size="7.6" font-style="italic">c</text><text x="603.4" y="246.2" font-size="12.5">=</text><text x="614.6" y="245.6" font-size="11" letter-spacing="0.7">1.43</text></g>
<text transform="translate(40.6,354) scale(1.106,1)" font-family="Liberation Serif, serif" font-size="17.5" fill="#000" stroke="#fff" stroke-width="0.12">(a) Pore Water Pressure (<tspan font-style="italic">u</tspan>) [kPa]</text>
<text transform="translate(416.5,354) scale(1.118,1)" font-family="Liberation Serif, serif" font-size="17.5" fill="#000" stroke="#fff" stroke-width="0.12">(b) Factor of Safety (<tspan font-style="italic">FOS</tspan>)</text>
</svg>
</body></html>
